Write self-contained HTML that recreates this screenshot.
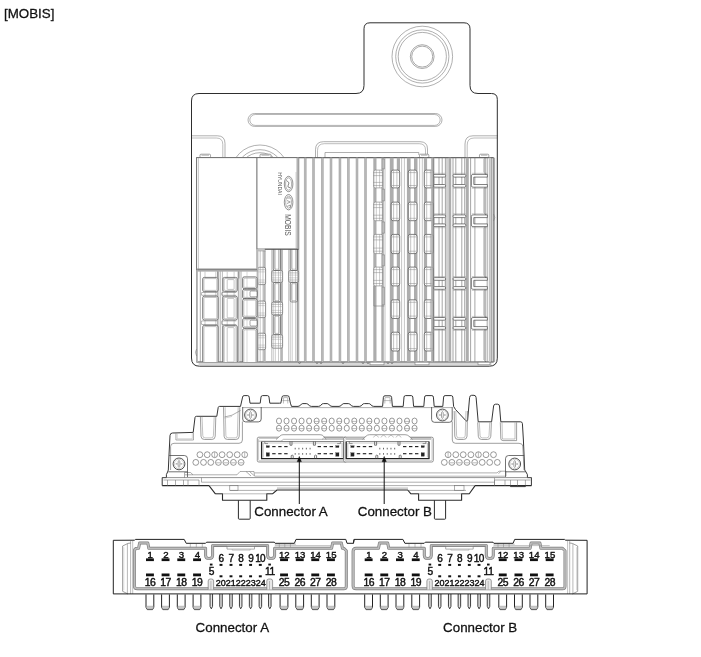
<!DOCTYPE html>
<html><head><meta charset="utf-8"><title>MOBIS</title>
<style>
html,body{margin:0;padding:0;background:#fff;}
body{width:701px;height:657px;overflow:hidden;font-family:"Liberation Sans",sans-serif;}
svg{display:block;position:absolute;left:0;top:0;will-change:transform;}
svg text{font-family:"Liberation Sans",sans-serif;fill:#111;}
</style></head><body>
<svg width="701" height="657" viewBox="0 0 701 657">
<rect x="0" y="0" width="701" height="657" fill="#fff"/>
<text x="4.00" y="18.10" font-size="13.35" text-anchor="start" stroke="#111" stroke-width="0.28">[MOBIS]</text>
<circle cx="422.30" cy="56.50" r="30.30" stroke="#7a7a7a" stroke-width="0.6" fill="none"/>
<circle cx="422.30" cy="56.50" r="26.60" stroke="#7a7a7a" stroke-width="0.6" fill="none"/>
<circle cx="422.30" cy="56.50" r="24.10" stroke="#7a7a7a" stroke-width="0.6" fill="none"/>
<circle cx="422.20" cy="56.60" r="11.90" stroke="#7a7a7a" stroke-width="0.65" fill="none"/>
<circle cx="422.20" cy="56.60" r="10.50" stroke="#7a7a7a" stroke-width="0.65" fill="none"/>
<rect x="248.00" y="113.50" width="194.00" height="12.90" rx="6.45" stroke="#7a7a7a" stroke-width="0.6" fill="none"/>
<rect x="249.80" y="114.50" width="190.40" height="10.90" rx="5.45" stroke="#7a7a7a" stroke-width="0.55" fill="none"/>
<path d="M191.5,135.8 L217.5,135.8 Q225,135.8 225,143.5 L225,157.5" stroke="#7a7a7a" stroke-width="0.6" fill="none" />
<path d="M191.5,138 L216.5,138 Q222.8,138 222.8,144.5 L222.8,157.5" stroke="#7a7a7a" stroke-width="0.5" fill="none" />
<path d="M497.8,135.8 L473,135.8 Q465,135.8 465,144 L465,157.5" stroke="#7a7a7a" stroke-width="0.6" fill="none" />
<path d="M497.3,138 L474,138 Q467.2,138 467.2,145 L467.2,157.5" stroke="#7a7a7a" stroke-width="0.5" fill="none" />
<clipPath id="arcclip"><rect x="225" y="140" width="70" height="17.5"/></clipPath>
<g clip-path="url(#arcclip)">
<circle cx="260.00" cy="174.30" r="29.30" stroke="#7a7a7a" stroke-width="0.6" fill="none"/>
<circle cx="260.00" cy="174.30" r="24.60" stroke="#7a7a7a" stroke-width="0.6" fill="none"/>
<circle cx="260.00" cy="174.30" r="21.60" stroke="#7a7a7a" stroke-width="0.6" fill="none"/>
</g>
<path d="M315.5,157.5 L315.5,149.7 Q315.5,141.7 323.5,141.7 L420,141.7 Q427.5,141.7 427.5,149 L427.5,155" stroke="#7a7a7a" stroke-width="0.6" fill="none" />
<path d="M317.5,157.5 L317.5,150.5 Q317.5,143.7 324.3,143.7 L419.2,143.7 Q425.5,143.7 425.5,150 L425.5,155" stroke="#7a7a7a" stroke-width="0.5" fill="none" />
<path d="M325,157.5 L325,152.5 L418.8,152.5 L418.8,155" stroke="#7a7a7a" stroke-width="0.6" fill="none" />
<rect x="200.00" y="154.20" width="10.50" height="3.50" rx="1" stroke="#7a7a7a" stroke-width="0.7" fill="#fff"/>
<line x1="201.50" y1="155.30" x2="209.00" y2="155.30" stroke="#7a7a7a" stroke-width="0.5"/>
<rect x="260.00" y="154.20" width="11.00" height="3.50" rx="1" stroke="#7a7a7a" stroke-width="0.7" fill="#fff"/>
<line x1="261.50" y1="155.30" x2="269.50" y2="155.30" stroke="#7a7a7a" stroke-width="0.5"/>
<rect x="419.50" y="154.20" width="9.30" height="3.50" rx="1" stroke="#7a7a7a" stroke-width="0.7" fill="#fff"/>
<line x1="421.00" y1="155.30" x2="427.30" y2="155.30" stroke="#7a7a7a" stroke-width="0.5"/>
<rect x="479.50" y="154.20" width="9.30" height="3.50" rx="1" stroke="#7a7a7a" stroke-width="0.7" fill="#fff"/>
<line x1="481.00" y1="155.30" x2="487.30" y2="155.30" stroke="#7a7a7a" stroke-width="0.5"/>
<rect x="196.60" y="157.70" width="296.90" height="204.30" rx="0" stroke="#7a7a7a" stroke-width="0.8" fill="#fff"/>
<line x1="196.60" y1="157.70" x2="493.50" y2="157.70" stroke="#555" stroke-width="0.9"/>
<line x1="196.60" y1="362.00" x2="493.50" y2="362.00" stroke="#666" stroke-width="0.8"/>
<line x1="198.60" y1="364.00" x2="491.50" y2="364.00" stroke="#7a7a7a" stroke-width="0.6"/>
<rect x="297.10" y="157.70" width="1.80" height="204.30" fill="#bdbdbd"/>
<line x1="297.10" y1="157.70" x2="297.10" y2="362.00" stroke="#8a8a8a" stroke-width="0.5"/>
<line x1="298.90" y1="157.70" x2="298.90" y2="362.00" stroke="#8a8a8a" stroke-width="0.5"/>
<rect x="304.40" y="157.70" width="1.80" height="204.30" fill="#bdbdbd"/>
<line x1="304.40" y1="157.70" x2="304.40" y2="362.00" stroke="#8a8a8a" stroke-width="0.5"/>
<line x1="306.20" y1="157.70" x2="306.20" y2="362.00" stroke="#8a8a8a" stroke-width="0.5"/>
<rect x="312.60" y="157.70" width="1.80" height="204.30" fill="#bdbdbd"/>
<line x1="312.60" y1="157.70" x2="312.60" y2="362.00" stroke="#8a8a8a" stroke-width="0.5"/>
<line x1="314.40" y1="157.70" x2="314.40" y2="362.00" stroke="#8a8a8a" stroke-width="0.5"/>
<rect x="321.50" y="157.70" width="1.80" height="204.30" fill="#bdbdbd"/>
<line x1="321.50" y1="157.70" x2="321.50" y2="362.00" stroke="#8a8a8a" stroke-width="0.5"/>
<line x1="323.30" y1="157.70" x2="323.30" y2="362.00" stroke="#8a8a8a" stroke-width="0.5"/>
<rect x="330.10" y="157.70" width="1.80" height="204.30" fill="#bdbdbd"/>
<line x1="330.10" y1="157.70" x2="330.10" y2="362.00" stroke="#8a8a8a" stroke-width="0.5"/>
<line x1="331.90" y1="157.70" x2="331.90" y2="362.00" stroke="#8a8a8a" stroke-width="0.5"/>
<rect x="339.00" y="157.70" width="1.80" height="204.30" fill="#bdbdbd"/>
<line x1="339.00" y1="157.70" x2="339.00" y2="362.00" stroke="#8a8a8a" stroke-width="0.5"/>
<line x1="340.80" y1="157.70" x2="340.80" y2="362.00" stroke="#8a8a8a" stroke-width="0.5"/>
<rect x="347.50" y="157.70" width="1.80" height="204.30" fill="#bdbdbd"/>
<line x1="347.50" y1="157.70" x2="347.50" y2="362.00" stroke="#8a8a8a" stroke-width="0.5"/>
<line x1="349.30" y1="157.70" x2="349.30" y2="362.00" stroke="#8a8a8a" stroke-width="0.5"/>
<rect x="356.10" y="157.70" width="1.80" height="204.30" fill="#bdbdbd"/>
<line x1="356.10" y1="157.70" x2="356.10" y2="362.00" stroke="#8a8a8a" stroke-width="0.5"/>
<line x1="357.90" y1="157.70" x2="357.90" y2="362.00" stroke="#8a8a8a" stroke-width="0.5"/>
<rect x="364.60" y="157.70" width="1.80" height="204.30" fill="#bdbdbd"/>
<line x1="364.60" y1="157.70" x2="364.60" y2="362.00" stroke="#8a8a8a" stroke-width="0.5"/>
<line x1="366.40" y1="157.70" x2="366.40" y2="362.00" stroke="#8a8a8a" stroke-width="0.5"/>
<rect x="373.30" y="157.70" width="3.20" height="204.30" fill="#adadad"/>
<rect x="381.30" y="157.70" width="2.50" height="204.30" fill="#adadad"/>
<rect x="389.80" y="157.70" width="3.80" height="204.30" fill="#adadad"/>
<rect x="396.80" y="157.70" width="3.20" height="204.30" fill="#adadad"/>
<rect x="406.90" y="157.70" width="3.70" height="204.30" fill="#adadad"/>
<rect x="414.00" y="157.70" width="3.50" height="204.30" fill="#adadad"/>
<rect x="423.90" y="157.70" width="3.20" height="204.30" fill="#adadad"/>
<rect x="431.90" y="157.70" width="2.50" height="204.30" fill="#adadad"/>
<line x1="385.00" y1="157.70" x2="385.00" y2="362.00" stroke="#8a8a8a" stroke-width="0.5"/>
<line x1="401.60" y1="157.70" x2="401.60" y2="362.00" stroke="#8a8a8a" stroke-width="0.5"/>
<line x1="404.40" y1="157.70" x2="404.40" y2="362.00" stroke="#8a8a8a" stroke-width="0.5"/>
<line x1="419.60" y1="157.70" x2="419.60" y2="362.00" stroke="#8a8a8a" stroke-width="0.5"/>
<line x1="422.30" y1="157.70" x2="422.30" y2="362.00" stroke="#8a8a8a" stroke-width="0.5"/>
<rect x="373.90" y="170.10" width="8.50" height="17.80" rx="1.5" stroke="#777" stroke-width="0.6" fill="#fff"/>
<line x1="376.30" y1="170.10" x2="376.30" y2="187.90" stroke="#999" stroke-width="0.5"/>
<line x1="379.60" y1="170.10" x2="379.60" y2="187.90" stroke="#999" stroke-width="0.5"/>
<line x1="373.30" y1="172.60" x2="383.00" y2="172.60" stroke="#888" stroke-width="0.5"/>
<line x1="373.30" y1="175.60" x2="383.00" y2="175.60" stroke="#888" stroke-width="0.5"/>
<line x1="373.30" y1="182.40" x2="383.00" y2="182.40" stroke="#888" stroke-width="0.5"/>
<line x1="373.30" y1="185.50" x2="383.00" y2="185.50" stroke="#888" stroke-width="0.5"/>
<rect x="373.90" y="202.10" width="8.50" height="18.60" rx="1.5" stroke="#777" stroke-width="0.6" fill="#fff"/>
<line x1="376.30" y1="202.10" x2="376.30" y2="220.70" stroke="#999" stroke-width="0.5"/>
<line x1="379.60" y1="202.10" x2="379.60" y2="220.70" stroke="#999" stroke-width="0.5"/>
<line x1="373.30" y1="204.60" x2="383.00" y2="204.60" stroke="#888" stroke-width="0.5"/>
<line x1="373.30" y1="207.60" x2="383.00" y2="207.60" stroke="#888" stroke-width="0.5"/>
<line x1="373.30" y1="215.20" x2="383.00" y2="215.20" stroke="#888" stroke-width="0.5"/>
<line x1="373.30" y1="218.30" x2="383.00" y2="218.30" stroke="#888" stroke-width="0.5"/>
<rect x="373.90" y="234.40" width="8.50" height="19.20" rx="1.5" stroke="#777" stroke-width="0.6" fill="#fff"/>
<line x1="376.30" y1="234.40" x2="376.30" y2="253.60" stroke="#999" stroke-width="0.5"/>
<line x1="379.60" y1="234.40" x2="379.60" y2="253.60" stroke="#999" stroke-width="0.5"/>
<line x1="373.30" y1="236.90" x2="383.00" y2="236.90" stroke="#888" stroke-width="0.5"/>
<line x1="373.30" y1="239.90" x2="383.00" y2="239.90" stroke="#888" stroke-width="0.5"/>
<line x1="373.30" y1="248.10" x2="383.00" y2="248.10" stroke="#888" stroke-width="0.5"/>
<line x1="373.30" y1="251.20" x2="383.00" y2="251.20" stroke="#888" stroke-width="0.5"/>
<rect x="373.90" y="267.10" width="8.50" height="18.80" rx="1.5" stroke="#777" stroke-width="0.6" fill="#fff"/>
<line x1="376.30" y1="267.10" x2="376.30" y2="285.90" stroke="#999" stroke-width="0.5"/>
<line x1="379.60" y1="267.10" x2="379.60" y2="285.90" stroke="#999" stroke-width="0.5"/>
<line x1="373.30" y1="269.60" x2="383.00" y2="269.60" stroke="#888" stroke-width="0.5"/>
<line x1="373.30" y1="272.60" x2="383.00" y2="272.60" stroke="#888" stroke-width="0.5"/>
<line x1="373.30" y1="280.40" x2="383.00" y2="280.40" stroke="#888" stroke-width="0.5"/>
<line x1="373.30" y1="283.50" x2="383.00" y2="283.50" stroke="#888" stroke-width="0.5"/>
<rect x="391.20" y="170.10" width="8.50" height="17.80" rx="2.0" stroke="#4c4c4c" stroke-width="0.7" fill="#fff"/>
<line x1="393.60" y1="170.50" x2="393.60" y2="187.50" stroke="#888" stroke-width="0.5"/>
<line x1="396.90" y1="170.50" x2="396.90" y2="187.50" stroke="#888" stroke-width="0.5"/>
<line x1="391.50" y1="172.60" x2="399.40" y2="172.60" stroke="#888" stroke-width="0.5"/>
<line x1="391.50" y1="185.50" x2="399.40" y2="185.50" stroke="#888" stroke-width="0.5"/>
<rect x="391.20" y="202.10" width="8.50" height="18.60" rx="2.0" stroke="#4c4c4c" stroke-width="0.7" fill="#fff"/>
<line x1="393.60" y1="202.50" x2="393.60" y2="220.30" stroke="#888" stroke-width="0.5"/>
<line x1="396.90" y1="202.50" x2="396.90" y2="220.30" stroke="#888" stroke-width="0.5"/>
<line x1="391.50" y1="204.60" x2="399.40" y2="204.60" stroke="#888" stroke-width="0.5"/>
<line x1="391.50" y1="218.30" x2="399.40" y2="218.30" stroke="#888" stroke-width="0.5"/>
<rect x="391.20" y="234.40" width="8.50" height="19.20" rx="2.0" stroke="#4c4c4c" stroke-width="0.7" fill="#fff"/>
<line x1="393.60" y1="234.80" x2="393.60" y2="253.20" stroke="#888" stroke-width="0.5"/>
<line x1="396.90" y1="234.80" x2="396.90" y2="253.20" stroke="#888" stroke-width="0.5"/>
<line x1="391.50" y1="236.90" x2="399.40" y2="236.90" stroke="#888" stroke-width="0.5"/>
<line x1="391.50" y1="251.20" x2="399.40" y2="251.20" stroke="#888" stroke-width="0.5"/>
<rect x="391.20" y="267.10" width="8.50" height="18.80" rx="2.0" stroke="#4c4c4c" stroke-width="0.7" fill="#fff"/>
<line x1="393.60" y1="267.50" x2="393.60" y2="285.50" stroke="#888" stroke-width="0.5"/>
<line x1="396.90" y1="267.50" x2="396.90" y2="285.50" stroke="#888" stroke-width="0.5"/>
<line x1="391.50" y1="269.60" x2="399.40" y2="269.60" stroke="#888" stroke-width="0.5"/>
<line x1="391.50" y1="283.50" x2="399.40" y2="283.50" stroke="#888" stroke-width="0.5"/>
<rect x="391.20" y="299.80" width="8.50" height="18.70" rx="2.0" stroke="#4c4c4c" stroke-width="0.7" fill="#fff"/>
<line x1="393.60" y1="300.20" x2="393.60" y2="318.10" stroke="#888" stroke-width="0.5"/>
<line x1="396.90" y1="300.20" x2="396.90" y2="318.10" stroke="#888" stroke-width="0.5"/>
<line x1="391.50" y1="302.30" x2="399.40" y2="302.30" stroke="#888" stroke-width="0.5"/>
<line x1="391.50" y1="316.10" x2="399.40" y2="316.10" stroke="#888" stroke-width="0.5"/>
<rect x="391.20" y="332.20" width="8.50" height="18.80" rx="2.0" stroke="#4c4c4c" stroke-width="0.7" fill="#fff"/>
<line x1="393.60" y1="332.60" x2="393.60" y2="350.60" stroke="#888" stroke-width="0.5"/>
<line x1="396.90" y1="332.60" x2="396.90" y2="350.60" stroke="#888" stroke-width="0.5"/>
<line x1="391.50" y1="334.70" x2="399.40" y2="334.70" stroke="#888" stroke-width="0.5"/>
<line x1="391.50" y1="348.60" x2="399.40" y2="348.60" stroke="#888" stroke-width="0.5"/>
<rect x="408.30" y="170.10" width="8.70" height="17.80" rx="2.0" stroke="#4c4c4c" stroke-width="0.7" fill="#fff"/>
<line x1="410.70" y1="170.50" x2="410.70" y2="187.50" stroke="#888" stroke-width="0.5"/>
<line x1="414.20" y1="170.50" x2="414.20" y2="187.50" stroke="#888" stroke-width="0.5"/>
<line x1="408.60" y1="172.60" x2="416.70" y2="172.60" stroke="#888" stroke-width="0.5"/>
<line x1="408.60" y1="185.50" x2="416.70" y2="185.50" stroke="#888" stroke-width="0.5"/>
<rect x="408.30" y="202.10" width="8.70" height="18.60" rx="2.0" stroke="#4c4c4c" stroke-width="0.7" fill="#fff"/>
<line x1="410.70" y1="202.50" x2="410.70" y2="220.30" stroke="#888" stroke-width="0.5"/>
<line x1="414.20" y1="202.50" x2="414.20" y2="220.30" stroke="#888" stroke-width="0.5"/>
<line x1="408.60" y1="204.60" x2="416.70" y2="204.60" stroke="#888" stroke-width="0.5"/>
<line x1="408.60" y1="218.30" x2="416.70" y2="218.30" stroke="#888" stroke-width="0.5"/>
<rect x="408.30" y="234.40" width="8.70" height="19.20" rx="2.0" stroke="#4c4c4c" stroke-width="0.7" fill="#fff"/>
<line x1="410.70" y1="234.80" x2="410.70" y2="253.20" stroke="#888" stroke-width="0.5"/>
<line x1="414.20" y1="234.80" x2="414.20" y2="253.20" stroke="#888" stroke-width="0.5"/>
<line x1="408.60" y1="236.90" x2="416.70" y2="236.90" stroke="#888" stroke-width="0.5"/>
<line x1="408.60" y1="251.20" x2="416.70" y2="251.20" stroke="#888" stroke-width="0.5"/>
<rect x="408.30" y="267.10" width="8.70" height="18.80" rx="2.0" stroke="#4c4c4c" stroke-width="0.7" fill="#fff"/>
<line x1="410.70" y1="267.50" x2="410.70" y2="285.50" stroke="#888" stroke-width="0.5"/>
<line x1="414.20" y1="267.50" x2="414.20" y2="285.50" stroke="#888" stroke-width="0.5"/>
<line x1="408.60" y1="269.60" x2="416.70" y2="269.60" stroke="#888" stroke-width="0.5"/>
<line x1="408.60" y1="283.50" x2="416.70" y2="283.50" stroke="#888" stroke-width="0.5"/>
<rect x="408.30" y="299.80" width="8.70" height="18.70" rx="2.0" stroke="#4c4c4c" stroke-width="0.7" fill="#fff"/>
<line x1="410.70" y1="300.20" x2="410.70" y2="318.10" stroke="#888" stroke-width="0.5"/>
<line x1="414.20" y1="300.20" x2="414.20" y2="318.10" stroke="#888" stroke-width="0.5"/>
<line x1="408.60" y1="302.30" x2="416.70" y2="302.30" stroke="#888" stroke-width="0.5"/>
<line x1="408.60" y1="316.10" x2="416.70" y2="316.10" stroke="#888" stroke-width="0.5"/>
<rect x="408.30" y="332.20" width="8.70" height="18.80" rx="2.0" stroke="#4c4c4c" stroke-width="0.7" fill="#fff"/>
<line x1="410.70" y1="332.60" x2="410.70" y2="350.60" stroke="#888" stroke-width="0.5"/>
<line x1="414.20" y1="332.60" x2="414.20" y2="350.60" stroke="#888" stroke-width="0.5"/>
<line x1="408.60" y1="334.70" x2="416.70" y2="334.70" stroke="#888" stroke-width="0.5"/>
<line x1="408.60" y1="348.60" x2="416.70" y2="348.60" stroke="#888" stroke-width="0.5"/>
<rect x="424.30" y="170.10" width="8.90" height="17.80" rx="2.0" stroke="#4c4c4c" stroke-width="0.7" fill="#fff"/>
<line x1="426.70" y1="170.50" x2="426.70" y2="187.50" stroke="#888" stroke-width="0.5"/>
<line x1="430.40" y1="170.50" x2="430.40" y2="187.50" stroke="#888" stroke-width="0.5"/>
<line x1="424.60" y1="172.60" x2="432.90" y2="172.60" stroke="#888" stroke-width="0.5"/>
<line x1="424.60" y1="185.50" x2="432.90" y2="185.50" stroke="#888" stroke-width="0.5"/>
<rect x="424.30" y="202.10" width="8.90" height="18.60" rx="2.0" stroke="#4c4c4c" stroke-width="0.7" fill="#fff"/>
<line x1="426.70" y1="202.50" x2="426.70" y2="220.30" stroke="#888" stroke-width="0.5"/>
<line x1="430.40" y1="202.50" x2="430.40" y2="220.30" stroke="#888" stroke-width="0.5"/>
<line x1="424.60" y1="204.60" x2="432.90" y2="204.60" stroke="#888" stroke-width="0.5"/>
<line x1="424.60" y1="218.30" x2="432.90" y2="218.30" stroke="#888" stroke-width="0.5"/>
<rect x="424.30" y="234.40" width="8.90" height="19.20" rx="2.0" stroke="#4c4c4c" stroke-width="0.7" fill="#fff"/>
<line x1="426.70" y1="234.80" x2="426.70" y2="253.20" stroke="#888" stroke-width="0.5"/>
<line x1="430.40" y1="234.80" x2="430.40" y2="253.20" stroke="#888" stroke-width="0.5"/>
<line x1="424.60" y1="236.90" x2="432.90" y2="236.90" stroke="#888" stroke-width="0.5"/>
<line x1="424.60" y1="251.20" x2="432.90" y2="251.20" stroke="#888" stroke-width="0.5"/>
<rect x="424.30" y="267.10" width="8.90" height="18.80" rx="2.0" stroke="#4c4c4c" stroke-width="0.7" fill="#fff"/>
<line x1="426.70" y1="267.50" x2="426.70" y2="285.50" stroke="#888" stroke-width="0.5"/>
<line x1="430.40" y1="267.50" x2="430.40" y2="285.50" stroke="#888" stroke-width="0.5"/>
<line x1="424.60" y1="269.60" x2="432.90" y2="269.60" stroke="#888" stroke-width="0.5"/>
<line x1="424.60" y1="283.50" x2="432.90" y2="283.50" stroke="#888" stroke-width="0.5"/>
<rect x="424.30" y="299.80" width="8.90" height="18.70" rx="2.0" stroke="#4c4c4c" stroke-width="0.7" fill="#fff"/>
<line x1="426.70" y1="300.20" x2="426.70" y2="318.10" stroke="#888" stroke-width="0.5"/>
<line x1="430.40" y1="300.20" x2="430.40" y2="318.10" stroke="#888" stroke-width="0.5"/>
<line x1="424.60" y1="302.30" x2="432.90" y2="302.30" stroke="#888" stroke-width="0.5"/>
<line x1="424.60" y1="316.10" x2="432.90" y2="316.10" stroke="#888" stroke-width="0.5"/>
<rect x="424.30" y="332.20" width="8.90" height="18.80" rx="2.0" stroke="#4c4c4c" stroke-width="0.7" fill="#fff"/>
<line x1="426.70" y1="332.60" x2="426.70" y2="350.60" stroke="#888" stroke-width="0.5"/>
<line x1="430.40" y1="332.60" x2="430.40" y2="350.60" stroke="#888" stroke-width="0.5"/>
<line x1="424.60" y1="334.70" x2="432.90" y2="334.70" stroke="#888" stroke-width="0.5"/>
<line x1="424.60" y1="348.60" x2="432.90" y2="348.60" stroke="#888" stroke-width="0.5"/>
<path d="M382.2,158.89999999999998 L384.5,158.89999999999998 L384.5,168.9 L382.2,168.9" stroke="#777" stroke-width="0.55" fill="none" />
<path d="M382.2,189.1 L384.5,189.1 L384.5,200.9 L382.2,200.9" stroke="#777" stroke-width="0.55" fill="none" />
<path d="M382.2,221.89999999999998 L384.5,221.89999999999998 L384.5,233.20000000000002 L382.2,233.20000000000002" stroke="#777" stroke-width="0.55" fill="none" />
<path d="M382.2,254.79999999999998 L384.5,254.79999999999998 L384.5,265.90000000000003 L382.2,265.90000000000003" stroke="#777" stroke-width="0.55" fill="none" />
<path d="M382.2,287.09999999999997 L384.5,287.09999999999997 L384.5,304.8 L382.2,304.8" stroke="#777" stroke-width="0.55" fill="none" />
<path d="M373.9,285.9 L373.9,306 L384.4,306" stroke="#7a7a7a" stroke-width="0.6" fill="none" />
<line x1="433.40" y1="157.70" x2="433.40" y2="362.00" stroke="#808080" stroke-width="0.7"/>
<line x1="439.00" y1="157.70" x2="439.00" y2="362.00" stroke="#808080" stroke-width="0.7"/>
<line x1="442.20" y1="157.70" x2="442.20" y2="362.00" stroke="#808080" stroke-width="0.7"/>
<line x1="445.40" y1="157.70" x2="445.40" y2="362.00" stroke="#808080" stroke-width="0.7"/>
<line x1="447.00" y1="157.70" x2="447.00" y2="362.00" stroke="#808080" stroke-width="0.7"/>
<line x1="453.00" y1="157.70" x2="453.00" y2="362.00" stroke="#808080" stroke-width="0.7"/>
<line x1="455.80" y1="157.70" x2="455.80" y2="362.00" stroke="#808080" stroke-width="0.7"/>
<line x1="461.80" y1="157.70" x2="461.80" y2="362.00" stroke="#808080" stroke-width="0.7"/>
<line x1="464.70" y1="157.70" x2="464.70" y2="362.00" stroke="#808080" stroke-width="0.7"/>
<line x1="470.60" y1="157.70" x2="470.60" y2="362.00" stroke="#808080" stroke-width="0.7"/>
<line x1="474.90" y1="157.70" x2="474.90" y2="362.00" stroke="#808080" stroke-width="0.7"/>
<line x1="487.20" y1="157.70" x2="487.20" y2="362.00" stroke="#808080" stroke-width="0.7"/>
<line x1="491.90" y1="157.70" x2="491.90" y2="362.00" stroke="#808080" stroke-width="0.7"/>
<line x1="494.60" y1="157.70" x2="494.60" y2="362.00" stroke="#808080" stroke-width="0.7"/>
<rect x="431.20" y="157.70" width="1.60" height="204.30" fill="#adadad"/>
<rect x="448.40" y="157.70" width="2.80" height="204.30" fill="#adadad"/>
<rect x="465.80" y="157.70" width="3.00" height="204.30" fill="#adadad"/>
<rect x="488.80" y="157.70" width="2.00" height="204.30" fill="#c4c4c4"/>
<rect x="433.60" y="174.40" width="12.00" height="2.70" rx="1.2" stroke="#4a4a4a" stroke-width="0.7" fill="#fff"/>
<rect x="433.60" y="184.50" width="12.00" height="2.70" rx="1.2" stroke="#4a4a4a" stroke-width="0.7" fill="#fff"/>
<line x1="433.60" y1="173.30" x2="445.60" y2="173.30" stroke="#999" stroke-width="0.5"/>
<line x1="433.60" y1="188.30" x2="445.60" y2="188.30" stroke="#999" stroke-width="0.5"/>
<line x1="433.90" y1="177.10" x2="433.90" y2="184.50" stroke="#777" stroke-width="0.6"/>
<line x1="445.30" y1="177.10" x2="445.30" y2="184.50" stroke="#999" stroke-width="0.5"/>
<rect x="453.00" y="174.40" width="12.80" height="2.70" rx="1.2" stroke="#4a4a4a" stroke-width="0.7" fill="#fff"/>
<rect x="453.00" y="184.50" width="12.80" height="2.70" rx="1.2" stroke="#4a4a4a" stroke-width="0.7" fill="#fff"/>
<line x1="453.00" y1="173.30" x2="465.80" y2="173.30" stroke="#999" stroke-width="0.5"/>
<line x1="453.00" y1="188.30" x2="465.80" y2="188.30" stroke="#999" stroke-width="0.5"/>
<line x1="453.30" y1="177.10" x2="453.30" y2="184.50" stroke="#777" stroke-width="0.6"/>
<line x1="465.50" y1="177.10" x2="465.50" y2="184.50" stroke="#999" stroke-width="0.5"/>
<path d="M487.4,174.4 L472.9,174.4 Q471.4,174.4 471.4,175.9 L471.4,185.7 Q471.4,187.2 472.9,187.2 L487.4,187.2 L487.4,184.5 L473.79999999999995,184.5 L473.79999999999995,177.1 L487.4,177.1 Z" stroke="#4a4a4a" stroke-width="0.7" fill="#fff" />
<line x1="471.90" y1="173.30" x2="487.40" y2="173.30" stroke="#999" stroke-width="0.5"/>
<line x1="471.90" y1="188.30" x2="487.40" y2="188.30" stroke="#999" stroke-width="0.5"/>
<rect x="433.60" y="214.90" width="12.00" height="2.70" rx="1.2" stroke="#4a4a4a" stroke-width="0.7" fill="#fff"/>
<rect x="433.60" y="223.90" width="12.00" height="2.70" rx="1.2" stroke="#4a4a4a" stroke-width="0.7" fill="#fff"/>
<line x1="433.60" y1="213.80" x2="445.60" y2="213.80" stroke="#999" stroke-width="0.5"/>
<line x1="433.60" y1="227.70" x2="445.60" y2="227.70" stroke="#999" stroke-width="0.5"/>
<line x1="433.90" y1="217.60" x2="433.90" y2="223.90" stroke="#777" stroke-width="0.6"/>
<line x1="445.30" y1="217.60" x2="445.30" y2="223.90" stroke="#999" stroke-width="0.5"/>
<rect x="453.00" y="214.90" width="12.80" height="2.70" rx="1.2" stroke="#4a4a4a" stroke-width="0.7" fill="#fff"/>
<rect x="453.00" y="223.90" width="12.80" height="2.70" rx="1.2" stroke="#4a4a4a" stroke-width="0.7" fill="#fff"/>
<line x1="453.00" y1="213.80" x2="465.80" y2="213.80" stroke="#999" stroke-width="0.5"/>
<line x1="453.00" y1="227.70" x2="465.80" y2="227.70" stroke="#999" stroke-width="0.5"/>
<line x1="453.30" y1="217.60" x2="453.30" y2="223.90" stroke="#777" stroke-width="0.6"/>
<line x1="465.50" y1="217.60" x2="465.50" y2="223.90" stroke="#999" stroke-width="0.5"/>
<path d="M487.4,214.9 L472.9,214.9 Q471.4,214.9 471.4,216.4 L471.4,225.1 Q471.4,226.6 472.9,226.6 L487.4,226.6 L487.4,223.9 L473.79999999999995,223.9 L473.79999999999995,217.6 L487.4,217.6 Z" stroke="#4a4a4a" stroke-width="0.7" fill="#fff" />
<line x1="471.90" y1="213.80" x2="487.40" y2="213.80" stroke="#999" stroke-width="0.5"/>
<line x1="471.90" y1="227.70" x2="487.40" y2="227.70" stroke="#999" stroke-width="0.5"/>
<rect x="433.60" y="277.60" width="12.00" height="2.70" rx="1.2" stroke="#4a4a4a" stroke-width="0.7" fill="#fff"/>
<rect x="433.60" y="286.60" width="12.00" height="2.70" rx="1.2" stroke="#4a4a4a" stroke-width="0.7" fill="#fff"/>
<line x1="433.60" y1="276.50" x2="445.60" y2="276.50" stroke="#999" stroke-width="0.5"/>
<line x1="433.60" y1="290.40" x2="445.60" y2="290.40" stroke="#999" stroke-width="0.5"/>
<line x1="433.90" y1="280.30" x2="433.90" y2="286.60" stroke="#777" stroke-width="0.6"/>
<line x1="445.30" y1="280.30" x2="445.30" y2="286.60" stroke="#999" stroke-width="0.5"/>
<rect x="453.00" y="277.60" width="12.80" height="2.70" rx="1.2" stroke="#4a4a4a" stroke-width="0.7" fill="#fff"/>
<rect x="453.00" y="286.60" width="12.80" height="2.70" rx="1.2" stroke="#4a4a4a" stroke-width="0.7" fill="#fff"/>
<line x1="453.00" y1="276.50" x2="465.80" y2="276.50" stroke="#999" stroke-width="0.5"/>
<line x1="453.00" y1="290.40" x2="465.80" y2="290.40" stroke="#999" stroke-width="0.5"/>
<line x1="453.30" y1="280.30" x2="453.30" y2="286.60" stroke="#777" stroke-width="0.6"/>
<line x1="465.50" y1="280.30" x2="465.50" y2="286.60" stroke="#999" stroke-width="0.5"/>
<path d="M487.4,277.6 L472.9,277.6 Q471.4,277.6 471.4,279.1 L471.4,287.8 Q471.4,289.3 472.9,289.3 L487.4,289.3 L487.4,286.6 L473.79999999999995,286.6 L473.79999999999995,280.3 L487.4,280.3 Z" stroke="#4a4a4a" stroke-width="0.7" fill="#fff" />
<line x1="471.90" y1="276.50" x2="487.40" y2="276.50" stroke="#999" stroke-width="0.5"/>
<line x1="471.90" y1="290.40" x2="487.40" y2="290.40" stroke="#999" stroke-width="0.5"/>
<rect x="433.60" y="317.50" width="12.00" height="2.70" rx="1.2" stroke="#4a4a4a" stroke-width="0.7" fill="#fff"/>
<rect x="433.60" y="326.60" width="12.00" height="2.70" rx="1.2" stroke="#4a4a4a" stroke-width="0.7" fill="#fff"/>
<line x1="433.60" y1="316.40" x2="445.60" y2="316.40" stroke="#999" stroke-width="0.5"/>
<line x1="433.60" y1="330.40" x2="445.60" y2="330.40" stroke="#999" stroke-width="0.5"/>
<line x1="433.90" y1="320.20" x2="433.90" y2="326.60" stroke="#777" stroke-width="0.6"/>
<line x1="445.30" y1="320.20" x2="445.30" y2="326.60" stroke="#999" stroke-width="0.5"/>
<rect x="453.00" y="317.50" width="12.80" height="2.70" rx="1.2" stroke="#4a4a4a" stroke-width="0.7" fill="#fff"/>
<rect x="453.00" y="326.60" width="12.80" height="2.70" rx="1.2" stroke="#4a4a4a" stroke-width="0.7" fill="#fff"/>
<line x1="453.00" y1="316.40" x2="465.80" y2="316.40" stroke="#999" stroke-width="0.5"/>
<line x1="453.00" y1="330.40" x2="465.80" y2="330.40" stroke="#999" stroke-width="0.5"/>
<line x1="453.30" y1="320.20" x2="453.30" y2="326.60" stroke="#777" stroke-width="0.6"/>
<line x1="465.50" y1="320.20" x2="465.50" y2="326.60" stroke="#999" stroke-width="0.5"/>
<path d="M487.4,317.5 L472.9,317.5 Q471.4,317.5 471.4,319.0 L471.4,327.8 Q471.4,329.3 472.9,329.3 L487.4,329.3 L487.4,326.6 L473.79999999999995,326.6 L473.79999999999995,320.2 L487.4,320.2 Z" stroke="#4a4a4a" stroke-width="0.7" fill="#fff" />
<line x1="471.90" y1="316.40" x2="487.40" y2="316.40" stroke="#999" stroke-width="0.5"/>
<line x1="471.90" y1="330.40" x2="487.40" y2="330.40" stroke="#999" stroke-width="0.5"/>
<line x1="485.00" y1="157.70" x2="485.00" y2="173.20" stroke="#4a4a4a" stroke-width="0.75"/>
<path d="M485.0,173.20000000000002 Q485.0,174.4 486.2,174.4" stroke="#4a4a4a" stroke-width="0.7" fill="none" />
<line x1="483.60" y1="158.70" x2="483.60" y2="172.40" stroke="#999" stroke-width="0.5"/>
<line x1="485.00" y1="187.20" x2="485.00" y2="213.70" stroke="#4a4a4a" stroke-width="0.75"/>
<path d="M485.0,213.70000000000002 Q485.0,214.9 486.2,214.9" stroke="#4a4a4a" stroke-width="0.7" fill="none" />
<line x1="483.60" y1="188.20" x2="483.60" y2="212.90" stroke="#999" stroke-width="0.5"/>
<line x1="485.00" y1="226.60" x2="485.00" y2="276.40" stroke="#4a4a4a" stroke-width="0.75"/>
<path d="M485.0,276.40000000000003 Q485.0,277.6 486.2,277.6" stroke="#4a4a4a" stroke-width="0.7" fill="none" />
<line x1="483.60" y1="227.60" x2="483.60" y2="275.60" stroke="#999" stroke-width="0.5"/>
<line x1="485.00" y1="289.30" x2="485.00" y2="316.30" stroke="#4a4a4a" stroke-width="0.75"/>
<path d="M485.0,316.3 Q485.0,317.5 486.2,317.5" stroke="#4a4a4a" stroke-width="0.7" fill="none" />
<line x1="483.60" y1="290.30" x2="483.60" y2="315.50" stroke="#999" stroke-width="0.5"/>
<line x1="485.00" y1="329.30" x2="485.00" y2="360.80" stroke="#4a4a4a" stroke-width="0.75"/>
<path d="M485.0,360.8 Q485.0,362.0 486.2,362.0" stroke="#4a4a4a" stroke-width="0.7" fill="none" />
<line x1="483.60" y1="330.30" x2="483.60" y2="360.00" stroke="#999" stroke-width="0.5"/>
<line x1="491.70" y1="157.70" x2="491.70" y2="362.00" stroke="#7a7a7a" stroke-width="0.5"/>
<rect x="196.60" y="157.70" width="60.40" height="112.30" rx="0" stroke="#6a6a6a" stroke-width="0.8" fill="#fff"/>
<line x1="198.30" y1="157.70" x2="198.30" y2="270.00" stroke="#999" stroke-width="0.6"/>
<line x1="196.60" y1="268.60" x2="257.00" y2="268.60" stroke="#999" stroke-width="0.6"/>
<rect x="257.00" y="157.70" width="41.00" height="91.30" rx="0" stroke="#6a6a6a" stroke-width="0.8" fill="#fff"/>
<rect x="296.90" y="157.70" width="1.80" height="91.30" fill="#bdbdbd"/>
<line x1="296.90" y1="157.70" x2="296.90" y2="249.00" stroke="#8a8a8a" stroke-width="0.5"/>
<line x1="298.70" y1="157.70" x2="298.70" y2="249.00" stroke="#8a8a8a" stroke-width="0.5"/>
<line x1="296.00" y1="172.00" x2="296.00" y2="249.00" stroke="#aaa" stroke-width="0.5"/>
<g fill="none" stroke="#666" stroke-width="0.7">
<ellipse cx="288.6" cy="184" rx="4.3" ry="7.7"/><ellipse cx="288.6" cy="184" rx="3.0" ry="6.2" stroke-width="0.5"/>
<path d="M286.8,180.5 Q290.5,183 288.2,185.2 Q286.5,187 290.4,188" stroke-width="0.8"/>
<ellipse cx="288.6" cy="202.2" rx="4.3" ry="7.7"/><ellipse cx="288.6" cy="202.2" rx="2.9" ry="6.0" stroke-width="0.5"/>
<path d="M287,198 L290.3,198 M287,200.5 L290.3,202 L287,203.5 M287,206.5 L290.3,205 L290.3,208" stroke-width="0.6"/>
</g>
<text transform="translate(278.0,172.3) rotate(90)" font-size="4.9" style="fill:#555" textLength="22.5" lengthAdjust="spacingAndGlyphs">HYUNDAI</text>
<text transform="translate(285.4,214.2) rotate(90)" font-size="8.8" style="fill:#5a5a5a" textLength="21.5" lengthAdjust="spacingAndGlyphs">MOBIS</text>
<rect x="263.40" y="250.80" width="2.30" height="111.20" fill="#b6b6b6"/>
<rect x="257.70" y="267.30" width="7.90" height="17.30" rx="1.8" stroke="#5c5c5c" stroke-width="0.65" fill="#fff"/>
<line x1="257.70" y1="269.70" x2="265.60" y2="269.70" stroke="#8a8a8a" stroke-width="0.5"/>
<line x1="257.70" y1="282.20" x2="265.60" y2="282.20" stroke="#8a8a8a" stroke-width="0.5"/>
<line x1="257.70" y1="271.90" x2="265.60" y2="271.90" stroke="#aaa" stroke-width="0.45"/>
<line x1="257.70" y1="280.00" x2="265.60" y2="280.00" stroke="#aaa" stroke-width="0.45"/>
<rect x="257.70" y="301.00" width="7.90" height="16.60" rx="1.8" stroke="#5c5c5c" stroke-width="0.65" fill="#fff"/>
<line x1="257.70" y1="303.40" x2="265.60" y2="303.40" stroke="#8a8a8a" stroke-width="0.5"/>
<line x1="257.70" y1="315.20" x2="265.60" y2="315.20" stroke="#8a8a8a" stroke-width="0.5"/>
<line x1="257.70" y1="305.60" x2="265.60" y2="305.60" stroke="#aaa" stroke-width="0.45"/>
<line x1="257.70" y1="313.00" x2="265.60" y2="313.00" stroke="#aaa" stroke-width="0.45"/>
<rect x="257.70" y="333.20" width="7.90" height="16.50" rx="1.8" stroke="#5c5c5c" stroke-width="0.65" fill="#fff"/>
<line x1="257.70" y1="335.60" x2="265.60" y2="335.60" stroke="#8a8a8a" stroke-width="0.5"/>
<line x1="257.70" y1="347.30" x2="265.60" y2="347.30" stroke="#8a8a8a" stroke-width="0.5"/>
<line x1="257.70" y1="337.80" x2="265.60" y2="337.80" stroke="#aaa" stroke-width="0.45"/>
<line x1="257.70" y1="345.10" x2="265.60" y2="345.10" stroke="#aaa" stroke-width="0.45"/>
<line x1="260.20" y1="250.80" x2="260.20" y2="362.00" stroke="#8a8a8a" stroke-width="0.5"/>
<line x1="263.00" y1="250.80" x2="263.00" y2="362.00" stroke="#8a8a8a" stroke-width="0.5"/>
<line x1="257.20" y1="250.80" x2="265.70" y2="250.80" stroke="#666" stroke-width="0.6"/>
<rect x="281.00" y="249.30" width="1.90" height="112.70" fill="#b6b6b6"/>
<rect x="271.60" y="270.50" width="11.00" height="11.90" rx="1.8" stroke="#5c5c5c" stroke-width="0.65" fill="#fff"/>
<line x1="271.60" y1="272.90" x2="282.60" y2="272.90" stroke="#8a8a8a" stroke-width="0.5"/>
<line x1="271.60" y1="280.00" x2="282.60" y2="280.00" stroke="#8a8a8a" stroke-width="0.5"/>
<line x1="271.60" y1="275.10" x2="282.60" y2="275.10" stroke="#aaa" stroke-width="0.45"/>
<line x1="271.60" y1="277.80" x2="282.60" y2="277.80" stroke="#aaa" stroke-width="0.45"/>
<rect x="271.60" y="302.00" width="11.00" height="13.00" rx="1.8" stroke="#5c5c5c" stroke-width="0.65" fill="#fff"/>
<line x1="271.60" y1="304.40" x2="282.60" y2="304.40" stroke="#8a8a8a" stroke-width="0.5"/>
<line x1="271.60" y1="312.60" x2="282.60" y2="312.60" stroke="#8a8a8a" stroke-width="0.5"/>
<line x1="271.60" y1="306.60" x2="282.60" y2="306.60" stroke="#aaa" stroke-width="0.45"/>
<line x1="271.60" y1="310.40" x2="282.60" y2="310.40" stroke="#aaa" stroke-width="0.45"/>
<rect x="271.60" y="334.70" width="11.00" height="13.50" rx="1.8" stroke="#5c5c5c" stroke-width="0.65" fill="#fff"/>
<line x1="271.60" y1="337.10" x2="282.60" y2="337.10" stroke="#8a8a8a" stroke-width="0.5"/>
<line x1="271.60" y1="345.80" x2="282.60" y2="345.80" stroke="#8a8a8a" stroke-width="0.5"/>
<line x1="271.60" y1="339.30" x2="282.60" y2="339.30" stroke="#aaa" stroke-width="0.45"/>
<line x1="271.60" y1="343.60" x2="282.60" y2="343.60" stroke="#aaa" stroke-width="0.45"/>
<line x1="271.60" y1="249.30" x2="271.60" y2="362.00" stroke="#999" stroke-width="0.5"/>
<line x1="275.30" y1="249.30" x2="275.30" y2="362.00" stroke="#999" stroke-width="0.5"/>
<line x1="278.50" y1="249.30" x2="278.50" y2="362.00" stroke="#999" stroke-width="0.5"/>
<line x1="273.20" y1="249.30" x2="273.20" y2="362.00" stroke="#8a8a8a" stroke-width="0.5"/>
<line x1="280.50" y1="249.30" x2="280.50" y2="362.00" stroke="#8a8a8a" stroke-width="0.5"/>
<path d="M273.2,249.3 L273.2,268.9 Q273.2,270.5 274.8,270.5 L278.9,270.5 Q280.5,270.5 280.5,268.9 L280.5,249.3" stroke="#606060" stroke-width="0.65" fill="none" />
<path d="M274.5,249.3 L274.5,268.29999999999995 Q274.5,269.2 275.8,269.2 L277.9,269.2 Q279.2,269.2 279.2,268.29999999999995 L279.2,249.3" stroke="#8c8c8c" stroke-width="0.5" fill="none" />
<rect x="273.20" y="282.40" width="7.30" height="19.60" rx="1.6" stroke="#606060" stroke-width="0.65" fill="none"/>
<rect x="274.50" y="283.70" width="4.70" height="17.00" rx="1" stroke="#8c8c8c" stroke-width="0.5" fill="none"/>
<rect x="273.20" y="315.00" width="7.30" height="19.70" rx="1.6" stroke="#606060" stroke-width="0.65" fill="none"/>
<rect x="274.50" y="316.30" width="4.70" height="17.10" rx="1" stroke="#8c8c8c" stroke-width="0.5" fill="none"/>
<rect x="288.50" y="270.50" width="10.10" height="11.90" rx="1.8" stroke="#5c5c5c" stroke-width="0.65" fill="#fff"/>
<line x1="288.50" y1="272.90" x2="298.60" y2="272.90" stroke="#8a8a8a" stroke-width="0.5"/>
<line x1="288.50" y1="280.00" x2="298.60" y2="280.00" stroke="#8a8a8a" stroke-width="0.5"/>
<line x1="288.50" y1="275.10" x2="298.60" y2="275.10" stroke="#aaa" stroke-width="0.45"/>
<line x1="288.50" y1="277.80" x2="298.60" y2="277.80" stroke="#aaa" stroke-width="0.45"/>
<line x1="288.50" y1="249.30" x2="288.50" y2="362.00" stroke="#999" stroke-width="0.5"/>
<line x1="292.20" y1="249.30" x2="292.20" y2="362.00" stroke="#999" stroke-width="0.5"/>
<line x1="295.60" y1="249.30" x2="295.60" y2="362.00" stroke="#999" stroke-width="0.5"/>
<line x1="290.20" y1="249.30" x2="290.20" y2="362.00" stroke="#8a8a8a" stroke-width="0.5"/>
<line x1="297.50" y1="249.30" x2="297.50" y2="362.00" stroke="#8a8a8a" stroke-width="0.5"/>
<path d="M290.2,249.3 L290.2,268.9 Q290.2,270.5 291.8,270.5 L295.9,270.5 Q297.5,270.5 297.5,268.9 L297.5,249.3" stroke="#606060" stroke-width="0.65" fill="none" />
<path d="M291.5,249.3 L291.5,268.29999999999995 Q291.5,269.2 292.8,269.2 L294.9,269.2 Q296.2,269.2 296.2,268.29999999999995 L296.2,249.3" stroke="#8c8c8c" stroke-width="0.5" fill="none" />
<rect x="290.20" y="282.40" width="7.30" height="19.60" rx="1.6" stroke="#606060" stroke-width="0.65" fill="none"/>
<rect x="291.50" y="283.70" width="4.70" height="17.00" rx="1" stroke="#8c8c8c" stroke-width="0.5" fill="none"/>
<line x1="264.80" y1="249.30" x2="298.60" y2="249.30" stroke="#444" stroke-width="0.8"/>
<rect x="196.30" y="270.00" width="1.60" height="92.00" fill="#b4b4b4"/>
<line x1="200.30" y1="271.00" x2="200.30" y2="362.00" stroke="#777" stroke-width="0.6"/>
<rect x="217.00" y="271.00" width="1.60" height="91.00" fill="#b4b4b4"/>
<line x1="220.20" y1="271.00" x2="220.20" y2="362.00" stroke="#777" stroke-width="0.6"/>
<line x1="222.40" y1="271.00" x2="222.40" y2="362.00" stroke="#888" stroke-width="0.55"/>
<rect x="237.80" y="271.00" width="1.60" height="91.00" fill="#b4b4b4"/>
<line x1="241.00" y1="271.00" x2="241.00" y2="362.00" stroke="#777" stroke-width="0.6"/>
<rect x="256.60" y="249.00" width="1.80" height="113.00" fill="#b8b8b8"/>
<line x1="205.00" y1="271.60" x2="205.00" y2="362.00" stroke="#9a9a9a" stroke-width="0.5"/>
<line x1="215.80" y1="271.60" x2="215.80" y2="362.00" stroke="#9a9a9a" stroke-width="0.5"/>
<line x1="227.20" y1="271.60" x2="227.20" y2="362.00" stroke="#9a9a9a" stroke-width="0.5"/>
<line x1="234.10" y1="271.60" x2="234.10" y2="362.00" stroke="#9a9a9a" stroke-width="0.5"/>
<rect x="202.70" y="277.40" width="15.40" height="14.20" rx="1.6" stroke="#505050" stroke-width="0.75" fill="#fff"/>
<rect x="203.90" y="278.60" width="13.00" height="11.80" rx="0.96" stroke="#8c8c8c" stroke-width="0.55" fill="none"/>
<rect x="202.70" y="296.20" width="15.40" height="23.80" rx="1.6" stroke="#505050" stroke-width="0.75" fill="#fff"/>
<rect x="203.90" y="297.40" width="13.00" height="21.40" rx="0.96" stroke="#8c8c8c" stroke-width="0.55" fill="none"/>
<path d="M202.7,362.0 L202.7,327.0 Q202.7,325.4 204.29999999999998,325.4 L216.5,325.4 Q218.1,325.4 218.1,327.0 L218.1,362.0" stroke="#505050" stroke-width="0.75" fill="#fff" />
<path d="M203.89999999999998,362.0 L203.89999999999998,327.6 Q203.89999999999998,326.59999999999997 205.29999999999998,326.59999999999997 L215.5,326.59999999999997 Q216.9,326.59999999999997 216.9,327.6 L216.9,362.0" stroke="#8c8c8c" stroke-width="0.55" fill="none" />
<line x1="201.70" y1="292.50" x2="217.10" y2="292.50" stroke="#777" stroke-width="0.55"/>
<line x1="201.70" y1="295.30" x2="217.10" y2="295.30" stroke="#777" stroke-width="0.55"/>
<path d="M201.7,292.5 Q200.89999999999998,293.9 201.7,295.3" stroke="#777" stroke-width="0.55" fill="none" />
<line x1="201.70" y1="320.90" x2="217.10" y2="320.90" stroke="#777" stroke-width="0.55"/>
<line x1="201.70" y1="324.50" x2="217.10" y2="324.50" stroke="#777" stroke-width="0.55"/>
<path d="M201.7,320.9 Q200.89999999999998,322.7 201.7,324.5" stroke="#777" stroke-width="0.55" fill="none" />
<rect x="222.90" y="277.40" width="14.40" height="14.20" rx="1.6" stroke="#505050" stroke-width="0.75" fill="#fff"/>
<rect x="224.10" y="278.60" width="12.00" height="11.80" rx="0.96" stroke="#8c8c8c" stroke-width="0.55" fill="none"/>
<rect x="222.90" y="296.20" width="14.40" height="23.80" rx="1.6" stroke="#505050" stroke-width="0.75" fill="#fff"/>
<rect x="224.10" y="297.40" width="12.00" height="21.40" rx="0.96" stroke="#8c8c8c" stroke-width="0.55" fill="none"/>
<path d="M222.9,362.0 L222.9,327.0 Q222.9,325.4 224.5,325.4 L235.70000000000002,325.4 Q237.3,325.4 237.3,327.0 L237.3,362.0" stroke="#505050" stroke-width="0.75" fill="#fff" />
<path d="M224.1,362.0 L224.1,327.6 Q224.1,326.59999999999997 225.5,326.59999999999997 L234.70000000000002,326.59999999999997 Q236.10000000000002,326.59999999999997 236.10000000000002,327.6 L236.10000000000002,362.0" stroke="#8c8c8c" stroke-width="0.55" fill="none" />
<line x1="221.90" y1="292.50" x2="236.30" y2="292.50" stroke="#777" stroke-width="0.55"/>
<line x1="221.90" y1="295.30" x2="236.30" y2="295.30" stroke="#777" stroke-width="0.55"/>
<path d="M221.9,292.5 Q221.1,293.9 221.9,295.3" stroke="#777" stroke-width="0.55" fill="none" />
<line x1="221.90" y1="320.90" x2="236.30" y2="320.90" stroke="#777" stroke-width="0.55"/>
<line x1="221.90" y1="324.50" x2="236.30" y2="324.50" stroke="#777" stroke-width="0.55"/>
<path d="M221.9,320.9 Q221.1,322.7 221.9,324.5" stroke="#777" stroke-width="0.55" fill="none" />
<rect x="227.20" y="279.60" width="6.90" height="9.80" rx="0.8" stroke="#8a8a8a" stroke-width="0.5" fill="none"/>
<rect x="227.20" y="298.40" width="6.90" height="19.40" rx="0.8" stroke="#8a8a8a" stroke-width="0.5" fill="none"/>
<rect x="227.20" y="327.60" width="6.90" height="34.40" rx="0.8" stroke="#8a8a8a" stroke-width="0.5" fill="none"/>
<rect x="242.60" y="276.90" width="14.40" height="11.70" rx="1.6" stroke="#505050" stroke-width="0.75" fill="#fff"/>
<rect x="243.80" y="278.10" width="12.00" height="9.30" rx="0.96" stroke="#8c8c8c" stroke-width="0.55" fill="none"/>
<rect x="242.60" y="289.30" width="14.40" height="9.30" rx="1.6" stroke="#505050" stroke-width="0.75" fill="#fff"/>
<rect x="243.80" y="290.50" width="12.00" height="6.90" rx="0.96" stroke="#8c8c8c" stroke-width="0.55" fill="none"/>
<rect x="242.60" y="298.90" width="14.40" height="18.50" rx="1.6" stroke="#505050" stroke-width="0.75" fill="#fff"/>
<rect x="243.80" y="300.10" width="12.00" height="16.10" rx="0.96" stroke="#8c8c8c" stroke-width="0.55" fill="none"/>
<rect x="242.60" y="318.50" width="14.40" height="9.50" rx="1.6" stroke="#505050" stroke-width="0.75" fill="#fff"/>
<rect x="243.80" y="319.70" width="12.00" height="7.10" rx="0.96" stroke="#8c8c8c" stroke-width="0.55" fill="none"/>
<path d="M242.6,362.0 L242.6,330.20000000000005 Q242.6,328.6 244.2,328.6 L255.4,328.6 Q257.0,328.6 257.0,330.20000000000005 L257.0,362.0" stroke="#505050" stroke-width="0.75" fill="#fff" />
<path d="M243.79999999999998,362.0 L243.79999999999998,330.80000000000007 Q243.79999999999998,329.8 245.2,329.8 L254.4,329.8 Q255.8,329.8 255.8,330.80000000000007 L255.8,362.0" stroke="#8c8c8c" stroke-width="0.55" fill="none" />
<rect x="250.00" y="291.00" width="7.00" height="5.80" rx="1.2" stroke="#6a6a6a" stroke-width="0.6" fill="#fff"/>
<rect x="250.00" y="320.20" width="7.00" height="5.80" rx="1.2" stroke="#6a6a6a" stroke-width="0.6" fill="#fff"/>
<line x1="247.00" y1="271.60" x2="247.00" y2="362.00" stroke="#aaa" stroke-width="0.45"/>
<rect x="197.30" y="269.50" width="60.70" height="2.10" fill="#aaaaaa"/>
<line x1="197.30" y1="269.50" x2="257.00" y2="269.50" stroke="#666" stroke-width="0.6"/>
<rect x="217.00" y="271.60" width="1.60" height="6.90" fill="#9a9a9a"/>
<rect x="237.80" y="271.60" width="1.60" height="6.90" fill="#9a9a9a"/>
<path d="M298.3,362 L299.5,364 L300.7,362" stroke="#666" stroke-width="0.6" fill="none" />
<path d="M315.8,362 L317,364 L318.2,362" stroke="#666" stroke-width="0.6" fill="none" />
<path d="M319.8,362 L321,364 L322.2,362" stroke="#666" stroke-width="0.6" fill="none" />
<path d="M341.8,362 L343,364 L344.2,362" stroke="#666" stroke-width="0.6" fill="none" />
<path d="M361.8,362 L363,364 L364.2,362" stroke="#666" stroke-width="0.6" fill="none" />
<path d="M366.8,362 L368,364 L369.2,362" stroke="#666" stroke-width="0.6" fill="none" />
<path d="M386.8,362 L388,364 L389.2,362" stroke="#666" stroke-width="0.6" fill="none" />
<path d="M390.8,362 L392,364 L393.2,362" stroke="#666" stroke-width="0.6" fill="none" />
<rect x="370.00" y="362.20" width="14.00" height="2.60" rx="0" stroke="#7a7a7a" stroke-width="0.6" fill="#fff"/>
<rect x="415.00" y="362.20" width="14.00" height="2.60" rx="0" stroke="#7a7a7a" stroke-width="0.6" fill="#fff"/>
<rect x="478.00" y="362.20" width="12.00" height="2.60" rx="0" stroke="#7a7a7a" stroke-width="0.6" fill="#fff"/>
<path d="M196.6,349 Q194.3,352 196.6,356" stroke="#7a7a7a" stroke-width="0.6" fill="none" />
<path d="M493.5,214 Q496,217.5 493.5,221" stroke="#7a7a7a" stroke-width="0.6" fill="none" />
<path d="M191.5,358 L191.5,101 Q191.5,93.5 199,93.5 L356,93.5 Q364,93.5 364,85.5 L364,28.8 Q364,22.8 370,22.8 L464,22.8 Q470,22.8 470,28.8 L470,85.5 Q470,93.5 478,93.5 L491.5,93.5 Q497.3,93.5 497.3,99.3 L497.3,358.2 Q497.3,366.2 489.3,366.2 L199.5,366.2 Q191.5,366.2 191.5,358 Z" stroke="#2e2e2e" stroke-width="1.0" fill="none" />
<path d="M162.2,485.6 L162.2,477.6 L166.4,477.6 L166.4,474.6 L167.6,472 L168.3,470 L169.0,455 L170.0,435.5 Q170.2,433 172.5,433 L193.2,432.4 L195.0,417.5 Q195.2,416.3 196.5,416.3 L216.8,416.3 L218.2,407.5 Q218.4,406.4 219.6,406.4 L240.5,406.4 L242.6,397.1 Q242.8,395.6 244.1,395.6 L247.7,395.6 Q249.0,395.6 249.2,397.1 L250.0,403.2 L259.3,403.2 L260.2,403.2 L261.0,397.1 Q261.2,395.6 262.5,395.6 L267.5,395.6 Q268.8,395.6 269.0,397.1 L269.8,403.2 L279.6,403.2 L280.8,403.2 L282.0,397.3 Q282.2,395.8 283.5,395.8 L287.7,395.8 Q289.0,395.8 289.2,397.3 L290.4,403.2 L291.5,406.4 L298.0,406.4 Q300.0,406.4 301.5,404.0 Q302.2,403.6 303.0,403.6 L306.3,403.6 Q307.1,403.6 307.8,404.0 Q309.3,406.4 311.3,406.4 L318.5,406.4 Q320.5,406.4 322.0,404.0 Q322.7,403.6 323.5,403.6 L327.0,403.6 Q327.8,403.6 328.5,404.0 Q330.0,406.4 332.0,406.4 L339.0,406.4 Q341.0,406.4 342.5,404.0 Q343.2,403.6 344.0,403.6 L348.3,403.6 Q349.1,403.6 349.8,404.0 Q351.3,406.4 353.3,406.4 L359.4,406.4 Q361.4,406.4 362.9,404.0 Q363.6,403.6 364.4,403.6 L368.7,403.6 Q369.5,403.6 370.2,404.0 Q371.7,406.4 373.7,406.4 L381.0,406.4 L382.6,406.4 L383.4,397.3 Q383.6,395.8 384.9,395.8 L390.1,395.8 Q391.4,395.8 391.6,397.3 L392.4,406.4 L403.2,406.4 L404.0,397.1 Q404.2,395.6 405.5,395.6 L411.3,395.6 Q412.6,395.6 412.8,397.1 L413.6,406.4 L423.8,406.4 L424.6,397.1 Q424.8,395.6 426.1,395.6 L431.9,395.6 Q433.2,395.6 433.4,397.1 L434.2,406.4 L442.8,406.4 L443.6,397.1 Q443.8,395.6 445.1,395.6 L451.3,395.6 Q452.6,395.6 452.8,397.1 L453.6,406.4 L455.5,409.5 L466.0,420.8 Q467,421.6 467.6,420.5 L469.6,397.5 Q469.9,395.3 471.6,395.3 L474,395.3 Q475.8,395.3 476.1,397.5 L478.2,421.8 L491.6,421.8 L493.6,406 Q493.9,404.2 495.5,404.2 L497.6,404.2 Q499.2,404.2 499.5,406 L500.8,421.8 L520.5,421.8 Q522.2,421.8 522.4,423.5 L523.4,440 L524.7,470 L526,472 L527.4,474.6 L527.4,477.6 L531.4,477.6 L531.4,485.6" stroke="#2a2a2a" stroke-width="0.95" fill="none" stroke-linejoin="round"/>
<path d="M283.4,403.5 L283.6,397.6 L287.59999999999997,397.6 L287.8,403.5 M282.4,400.6 L288.8,400.6" stroke="#888" stroke-width="0.55" fill="none" />
<path d="M384.79999999999995,403.5 L385.0,397.6 L390.0,397.6 L390.20000000000005,403.5 M383.79999999999995,400.6 L391.20000000000005,400.6" stroke="#888" stroke-width="0.55" fill="none" />
<path d="M242.5,407.6 L291,407.6 L380,407.6 L452,407.6" stroke="#777" stroke-width="0.6" fill="none" />
<path d="M162.2,485.6 L209,485.6 L215.4,493.8 L222.5,493.8 L222.5,500.3 L266.8,500.3 L266.8,493.8 L272.5,493.8 L277,490 L407.7,490 L410.9,493.8 L418.6,493.8 L418.6,500.3 L461.6,500.3 L461.6,493.8 L469.3,493.8 L475.1,485.6 L531.5,485.6" stroke="#2a2a2a" stroke-width="1.1" fill="none" stroke-linejoin="round"/>
<path d="M238.4,500.3 L238.4,518.4 Q238.4,519.2 239.2,519.2 L249.4,519.2 Q250.2,519.2 250.2,518.4 L250.2,500.3" stroke="#2a2a2a" stroke-width="1.0" fill="none" />
<path d="M434.4,500.3 L434.4,518.4 Q434.4,519.2 435.2,519.2 L444.8,519.2 Q445.6,519.2 445.6,518.4 L445.6,500.3" stroke="#2a2a2a" stroke-width="1.0" fill="none" />
<path d="M185,474.8 L237,474.8 L240,471.5 L254,471.5 L254.5,476" stroke="#777" stroke-width="0.6" fill="none" />
<path d="M246,471.5 L251,476 M249.5,471.5 L254,475.5" stroke="#777" stroke-width="0.6" fill="none" />
<line x1="254.50" y1="472.90" x2="497.00" y2="472.90" stroke="#777" stroke-width="0.6"/>
<line x1="254.50" y1="476.20" x2="505.00" y2="476.20" stroke="#777" stroke-width="0.55"/>
<line x1="162.20" y1="477.60" x2="531.50" y2="477.60" stroke="#666" stroke-width="0.7"/>
<line x1="201.50" y1="482.20" x2="495.00" y2="482.20" stroke="#777" stroke-width="0.6"/>
<line x1="209.00" y1="485.60" x2="475.00" y2="485.60" stroke="#777" stroke-width="0.6"/>
<line x1="277.00" y1="488.10" x2="408.00" y2="488.10" stroke="#777" stroke-width="0.6"/>
<line x1="229.80" y1="490.40" x2="276.00" y2="490.40" stroke="#777" stroke-width="0.6"/>
<line x1="409.00" y1="490.40" x2="466.00" y2="490.40" stroke="#777" stroke-width="0.6"/>
<line x1="216.00" y1="493.80" x2="272.00" y2="493.80" stroke="#777" stroke-width="0.5"/>
<line x1="411.00" y1="493.80" x2="469.00" y2="493.80" stroke="#777" stroke-width="0.5"/>
<line x1="167.50" y1="480.00" x2="167.50" y2="485.60" stroke="#777" stroke-width="0.6"/>
<line x1="175.50" y1="480.00" x2="175.50" y2="485.60" stroke="#777" stroke-width="0.6"/>
<line x1="183.50" y1="480.00" x2="183.50" y2="485.60" stroke="#777" stroke-width="0.6"/>
<line x1="188.00" y1="480.00" x2="188.00" y2="485.60" stroke="#777" stroke-width="0.6"/>
<line x1="199.00" y1="480.00" x2="199.00" y2="485.60" stroke="#777" stroke-width="0.6"/>
<line x1="163.50" y1="480.00" x2="199.00" y2="480.00" stroke="#777" stroke-width="0.6"/>
<line x1="201.50" y1="477.60" x2="201.50" y2="482.20" stroke="#777" stroke-width="0.6"/>
<line x1="494.50" y1="480.00" x2="494.50" y2="485.60" stroke="#777" stroke-width="0.6"/>
<line x1="505.00" y1="480.00" x2="505.00" y2="485.60" stroke="#777" stroke-width="0.6"/>
<line x1="510.50" y1="480.00" x2="510.50" y2="485.60" stroke="#777" stroke-width="0.6"/>
<line x1="517.50" y1="480.00" x2="517.50" y2="485.60" stroke="#777" stroke-width="0.6"/>
<line x1="525.40" y1="480.00" x2="525.40" y2="485.60" stroke="#777" stroke-width="0.6"/>
<line x1="494.50" y1="480.00" x2="530.50" y2="480.00" stroke="#777" stroke-width="0.6"/>
<line x1="494.50" y1="477.80" x2="494.50" y2="485.00" stroke="#777" stroke-width="0.6"/>
<path d="M510.5,485.6 L510.5,486.6 L525.4,486.6 L525.4,485.6" stroke="#2a2a2a" stroke-width="0.9" fill="none" />
<path d="M184.5,477.8 L184.5,472.5 L190.5,472.5 L193,474.8" stroke="#777" stroke-width="0.6" fill="none" />
<path d="M497,472.9 L499,471.2 L506,471.2 L506,476.2 M501,471.2 L498.5,473.8" stroke="#777" stroke-width="0.6" fill="none" />
<rect x="229.80" y="485.60" width="8.20" height="4.80" rx="0" stroke="#777" stroke-width="0.6" fill="none"/>
<rect x="454.50" y="485.60" width="9.50" height="4.80" rx="0" stroke="#777" stroke-width="0.6" fill="none"/>
<path d="M170.6,470 L170.6,446.5 Q170.6,443.3 174,443.3 L239,443.3 Q242.4,443.3 242.4,440 L242.4,421.5" stroke="#777" stroke-width="0.7" fill="none" />
<path d="M452.3,421.5 L452.3,440 Q452.3,443.3 455.5,443.3 L519,443.3 Q522.5,443.3 522.8,446 L524,470" stroke="#777" stroke-width="0.7" fill="none" />
<path d="M175.9,433.3 L175.9,440 L193.5,440 L193.5,432.8" stroke="#777" stroke-width="0.6" fill="none" />
<path d="M177.2,433.3 L177.2,438.8 L192.3,438.8 L192.3,432.8" stroke="#aaa" stroke-width="0.5" fill="none" />
<path d="M200.4,416.8 L201.0,436.3 Q201.20000000000002,439.5 204.4,439.5 L211.8,439.5 Q215.0,439.5 215.20000000000002,436.3 L215.8,416.8" stroke="#777" stroke-width="0.7" fill="none" />
<path d="M202.0,416.8 L202.8,435.7 Q203.0,437.9 205.0,437.9 L211.20000000000002,437.9 Q213.20000000000002,437.9 213.4,435.7 L214.20000000000002,416.8" stroke="#999" stroke-width="0.6" fill="none" />
<path d="M223.5,407.2 L224.1,436.3 Q224.3,439.5 227.5,439.5 L235.8,439.5 Q239.0,439.5 239.20000000000002,436.3 L239.8,407.2" stroke="#777" stroke-width="0.7" fill="none" />
<path d="M225.1,407.2 L225.9,435.7 Q226.1,437.9 228.1,437.9 L235.20000000000002,437.9 Q237.20000000000002,437.9 237.4,435.7 L238.20000000000002,407.2" stroke="#999" stroke-width="0.6" fill="none" />
<path d="M224.5,417 L232,415.2 L240.5,410.5" stroke="#777" stroke-width="0.6" fill="none" />
<path d="M224.5,418.2 L232,416.4" stroke="#aaa" stroke-width="0.5" fill="none" />
<path d="M454.2,411 L454.8,436.3 Q455.0,439.5 458.2,439.5 L463.6,439.5 Q466.8,439.5 467.0,436.3 L467.6,411" stroke="#777" stroke-width="0.7" fill="none" />
<path d="M455.8,411 L456.59999999999997,435.7 Q456.8,437.9 458.79999999999995,437.9 L463.00000000000006,437.9 Q465.0,437.9 465.20000000000005,435.7 L466.0,411" stroke="#999" stroke-width="0.6" fill="none" />
<path d="M477.7,422.3 L478.3,436.3 Q478.5,439.5 481.7,439.5 L487.4,439.5 Q490.59999999999997,439.5 490.79999999999995,436.3 L491.4,422.3" stroke="#777" stroke-width="0.7" fill="none" />
<path d="M479.3,422.3 L480.09999999999997,435.7 Q480.3,437.9 482.29999999999995,437.9 L486.8,437.9 Q488.79999999999995,437.9 489.0,435.7 L489.79999999999995,422.3" stroke="#999" stroke-width="0.6" fill="none" />
<path d="M500.3,422.3 L500.8,438.5 Q501,440.6 503,440.6 L516.6,440.6 L516.6,422.3" stroke="#777" stroke-width="0.7" fill="none" />
<path d="M502,422.3 L502.4,439 L515,439 L515,422.3" stroke="#999" stroke-width="0.6" fill="none" />
<path d="M242.7,407 L242.7,419 Q242.7,421.9 245.6,421.9 L258.3,421.9 Q261.2,421.9 261.2,419 L261.2,407" stroke="#444" stroke-width="0.8" fill="none" />
<path d="M431.6,407 L431.6,419.4 Q431.6,422.3 434.5,422.3 L449.3,422.3 Q452.2,422.3 452.2,419.4 L452.2,407" stroke="#444" stroke-width="0.8" fill="none" />
<path d="M169.2,455.5 L184.3,455.5 Q187.5,455.5 187.5,458.7 L187.5,477 M168.3,471.8 L187.5,471.8" stroke="#444" stroke-width="0.75" fill="none" />
<path d="M524.2,455.5 L508.7,455.5 Q505.5,455.5 505.5,458.7 L505.5,477 M505.5,471.8 L525.6,471.8" stroke="#444" stroke-width="0.75" fill="none" />
<circle cx="250.50" cy="415.00" r="5.90" stroke="#333" stroke-width="0.85" fill="#fff"/>
<circle cx="250.50" cy="415.00" r="4.70" stroke="#999" stroke-width="0.45" fill="none"/>
<ellipse cx="250.5" cy="415" rx="0.95" ry="3.5" stroke="#555" stroke-width="0.55" fill="none"/>
<path d="M247.2,415 L248.9,415 M252.1,415 L253.8,415" stroke="#555" stroke-width="0.7" fill="none" />
<circle cx="442.40" cy="415.00" r="5.90" stroke="#333" stroke-width="0.85" fill="#fff"/>
<circle cx="442.40" cy="415.00" r="4.70" stroke="#999" stroke-width="0.45" fill="none"/>
<ellipse cx="442.4" cy="415" rx="0.95" ry="3.5" stroke="#555" stroke-width="0.55" fill="none"/>
<path d="M439.09999999999997,415 L440.79999999999995,415 M444.0,415 L445.7,415" stroke="#555" stroke-width="0.7" fill="none" />
<circle cx="179.00" cy="463.90" r="5.90" stroke="#333" stroke-width="0.85" fill="#fff"/>
<circle cx="179.00" cy="463.90" r="4.70" stroke="#999" stroke-width="0.45" fill="none"/>
<ellipse cx="179" cy="463.9" rx="0.95" ry="3.5" stroke="#555" stroke-width="0.55" fill="none"/>
<path d="M175.7,463.9 L177.4,463.9 M180.6,463.9 L182.3,463.9" stroke="#555" stroke-width="0.7" fill="none" />
<circle cx="514.70" cy="464.00" r="5.90" stroke="#333" stroke-width="0.85" fill="#fff"/>
<circle cx="514.70" cy="464.00" r="4.70" stroke="#999" stroke-width="0.45" fill="none"/>
<ellipse cx="514.7" cy="464.0" rx="0.95" ry="3.5" stroke="#555" stroke-width="0.55" fill="none"/>
<path d="M511.40000000000003,464.0 L513.1,464.0 M516.3000000000001,464.0 L518.0,464.0" stroke="#555" stroke-width="0.7" fill="none" />
<ellipse cx="279.00" cy="421.00" rx="2.55" ry="2.95" stroke="#555" stroke-width="0.6" fill="#fff"/>
<ellipse cx="279.00" cy="428.20" rx="2.55" ry="2.95" stroke="#555" stroke-width="0.6" fill="#fff"/>
<line x1="276.70" y1="428.60" x2="281.30" y2="428.60" stroke="#777" stroke-width="0.5"/>
<ellipse cx="286.53" cy="421.00" rx="2.55" ry="2.95" stroke="#555" stroke-width="0.6" fill="#fff"/>
<ellipse cx="286.53" cy="428.20" rx="2.55" ry="2.95" stroke="#555" stroke-width="0.6" fill="#fff"/>
<line x1="284.23" y1="428.60" x2="288.83" y2="428.60" stroke="#777" stroke-width="0.5"/>
<ellipse cx="294.06" cy="421.00" rx="2.55" ry="2.95" stroke="#555" stroke-width="0.6" fill="#fff"/>
<ellipse cx="294.06" cy="428.20" rx="2.55" ry="2.95" stroke="#555" stroke-width="0.6" fill="#fff"/>
<line x1="291.76" y1="428.60" x2="296.36" y2="428.60" stroke="#777" stroke-width="0.5"/>
<ellipse cx="301.59" cy="421.00" rx="2.55" ry="2.95" stroke="#555" stroke-width="0.6" fill="#fff"/>
<ellipse cx="301.59" cy="428.20" rx="2.55" ry="2.95" stroke="#555" stroke-width="0.6" fill="#fff"/>
<line x1="299.29" y1="428.60" x2="303.89" y2="428.60" stroke="#777" stroke-width="0.5"/>
<ellipse cx="309.12" cy="421.00" rx="2.55" ry="2.95" stroke="#555" stroke-width="0.6" fill="#fff"/>
<ellipse cx="309.12" cy="428.20" rx="2.55" ry="2.95" stroke="#555" stroke-width="0.6" fill="#fff"/>
<line x1="306.82" y1="428.60" x2="311.42" y2="428.60" stroke="#777" stroke-width="0.5"/>
<ellipse cx="316.65" cy="421.00" rx="2.55" ry="2.95" stroke="#555" stroke-width="0.6" fill="#fff"/>
<line x1="314.35" y1="421.40" x2="318.95" y2="421.40" stroke="#777" stroke-width="0.5"/>
<ellipse cx="316.65" cy="428.20" rx="2.55" ry="2.95" stroke="#555" stroke-width="0.6" fill="#fff"/>
<line x1="314.35" y1="428.60" x2="318.95" y2="428.60" stroke="#777" stroke-width="0.5"/>
<ellipse cx="324.18" cy="421.00" rx="2.55" ry="2.95" stroke="#555" stroke-width="0.6" fill="#fff"/>
<line x1="321.88" y1="421.40" x2="326.48" y2="421.40" stroke="#777" stroke-width="0.5"/>
<ellipse cx="324.18" cy="428.20" rx="2.55" ry="2.95" stroke="#555" stroke-width="0.6" fill="#fff"/>
<line x1="321.88" y1="428.60" x2="326.48" y2="428.60" stroke="#777" stroke-width="0.5"/>
<ellipse cx="331.71" cy="421.00" rx="2.55" ry="2.95" stroke="#555" stroke-width="0.6" fill="#fff"/>
<ellipse cx="331.71" cy="428.20" rx="2.55" ry="2.95" stroke="#555" stroke-width="0.6" fill="#fff"/>
<ellipse cx="339.24" cy="421.00" rx="2.55" ry="2.95" stroke="#555" stroke-width="0.6" fill="#fff"/>
<line x1="336.94" y1="421.40" x2="341.54" y2="421.40" stroke="#777" stroke-width="0.5"/>
<ellipse cx="339.24" cy="428.20" rx="2.55" ry="2.95" stroke="#555" stroke-width="0.6" fill="#fff"/>
<line x1="336.94" y1="428.60" x2="341.54" y2="428.60" stroke="#777" stroke-width="0.5"/>
<ellipse cx="346.77" cy="421.00" rx="2.55" ry="2.95" stroke="#555" stroke-width="0.6" fill="#fff"/>
<ellipse cx="346.77" cy="428.20" rx="2.55" ry="2.95" stroke="#555" stroke-width="0.6" fill="#fff"/>
<ellipse cx="354.30" cy="421.00" rx="2.55" ry="2.95" stroke="#555" stroke-width="0.6" fill="#fff"/>
<line x1="352.00" y1="421.40" x2="356.60" y2="421.40" stroke="#777" stroke-width="0.5"/>
<ellipse cx="354.30" cy="428.20" rx="2.55" ry="2.95" stroke="#555" stroke-width="0.6" fill="#fff"/>
<line x1="352.00" y1="428.60" x2="356.60" y2="428.60" stroke="#777" stroke-width="0.5"/>
<ellipse cx="361.83" cy="421.00" rx="2.55" ry="2.95" stroke="#555" stroke-width="0.6" fill="#fff"/>
<ellipse cx="361.83" cy="428.20" rx="2.55" ry="2.95" stroke="#555" stroke-width="0.6" fill="#fff"/>
<line x1="359.53" y1="428.60" x2="364.13" y2="428.60" stroke="#777" stroke-width="0.5"/>
<ellipse cx="369.36" cy="421.00" rx="2.55" ry="2.95" stroke="#555" stroke-width="0.6" fill="#fff"/>
<line x1="367.06" y1="421.40" x2="371.66" y2="421.40" stroke="#777" stroke-width="0.5"/>
<ellipse cx="369.36" cy="428.20" rx="2.55" ry="2.95" stroke="#555" stroke-width="0.6" fill="#fff"/>
<line x1="367.06" y1="428.60" x2="371.66" y2="428.60" stroke="#777" stroke-width="0.5"/>
<ellipse cx="376.89" cy="421.00" rx="2.55" ry="2.95" stroke="#555" stroke-width="0.6" fill="#fff"/>
<ellipse cx="376.89" cy="428.20" rx="2.55" ry="2.95" stroke="#555" stroke-width="0.6" fill="#fff"/>
<ellipse cx="384.42" cy="421.00" rx="2.55" ry="2.95" stroke="#555" stroke-width="0.6" fill="#fff"/>
<ellipse cx="384.42" cy="428.20" rx="2.55" ry="2.95" stroke="#555" stroke-width="0.6" fill="#fff"/>
<line x1="382.12" y1="428.60" x2="386.72" y2="428.60" stroke="#777" stroke-width="0.5"/>
<ellipse cx="391.95" cy="421.00" rx="2.55" ry="2.95" stroke="#555" stroke-width="0.6" fill="#fff"/>
<line x1="389.65" y1="421.40" x2="394.25" y2="421.40" stroke="#777" stroke-width="0.5"/>
<ellipse cx="391.95" cy="428.20" rx="2.55" ry="2.95" stroke="#555" stroke-width="0.6" fill="#fff"/>
<line x1="389.65" y1="428.60" x2="394.25" y2="428.60" stroke="#777" stroke-width="0.5"/>
<ellipse cx="399.48" cy="421.00" rx="2.55" ry="2.95" stroke="#555" stroke-width="0.6" fill="#fff"/>
<ellipse cx="399.48" cy="428.20" rx="2.55" ry="2.95" stroke="#555" stroke-width="0.6" fill="#fff"/>
<ellipse cx="407.01" cy="421.00" rx="2.55" ry="2.95" stroke="#555" stroke-width="0.6" fill="#fff"/>
<line x1="404.71" y1="421.40" x2="409.31" y2="421.40" stroke="#777" stroke-width="0.5"/>
<ellipse cx="407.01" cy="428.20" rx="2.55" ry="2.95" stroke="#555" stroke-width="0.6" fill="#fff"/>
<line x1="404.71" y1="428.60" x2="409.31" y2="428.60" stroke="#777" stroke-width="0.5"/>
<ellipse cx="414.54" cy="421.00" rx="2.55" ry="2.95" stroke="#555" stroke-width="0.6" fill="#fff"/>
<ellipse cx="414.54" cy="428.20" rx="2.55" ry="2.95" stroke="#555" stroke-width="0.6" fill="#fff"/>
<line x1="412.24" y1="428.60" x2="416.84" y2="428.60" stroke="#777" stroke-width="0.5"/>
<ellipse cx="199.90" cy="454.70" rx="2.9" ry="2.95" stroke="#555" stroke-width="0.6" fill="#fff"/>
<ellipse cx="207.20" cy="454.70" rx="2.9" ry="2.95" stroke="#555" stroke-width="0.6" fill="#fff"/>
<ellipse cx="214.60" cy="454.70" rx="2.9" ry="2.95" stroke="#555" stroke-width="0.6" fill="#fff"/>
<line x1="214.60" y1="452.10" x2="214.60" y2="457.30" stroke="#777" stroke-width="0.5"/>
<ellipse cx="222.10" cy="454.70" rx="2.9" ry="2.95" stroke="#555" stroke-width="0.6" fill="#fff"/>
<ellipse cx="229.70" cy="454.70" rx="2.9" ry="2.95" stroke="#555" stroke-width="0.6" fill="#fff"/>
<ellipse cx="237.20" cy="454.70" rx="2.9" ry="2.95" stroke="#555" stroke-width="0.6" fill="#fff"/>
<ellipse cx="244.70" cy="454.70" rx="2.9" ry="2.95" stroke="#555" stroke-width="0.6" fill="#fff"/>
<line x1="244.70" y1="452.10" x2="244.70" y2="457.30" stroke="#777" stroke-width="0.5"/>
<ellipse cx="195.80" cy="462.40" rx="2.9" ry="2.95" stroke="#555" stroke-width="0.6" fill="#fff"/>
<ellipse cx="203.50" cy="462.40" rx="2.9" ry="2.95" stroke="#555" stroke-width="0.6" fill="#fff"/>
<ellipse cx="210.80" cy="462.40" rx="2.9" ry="2.95" stroke="#555" stroke-width="0.6" fill="#fff"/>
<ellipse cx="218.40" cy="462.40" rx="2.9" ry="2.95" stroke="#555" stroke-width="0.6" fill="#fff"/>
<line x1="216.10" y1="462.80" x2="220.70" y2="462.80" stroke="#777" stroke-width="0.5"/>
<ellipse cx="225.90" cy="462.40" rx="2.9" ry="2.95" stroke="#555" stroke-width="0.6" fill="#fff"/>
<line x1="223.60" y1="462.80" x2="228.20" y2="462.80" stroke="#777" stroke-width="0.5"/>
<ellipse cx="233.40" cy="462.40" rx="2.9" ry="2.95" stroke="#555" stroke-width="0.6" fill="#fff"/>
<line x1="231.10" y1="462.80" x2="235.70" y2="462.80" stroke="#777" stroke-width="0.5"/>
<ellipse cx="241.10" cy="462.40" rx="2.9" ry="2.95" stroke="#555" stroke-width="0.6" fill="#fff"/>
<line x1="238.80" y1="462.80" x2="243.40" y2="462.80" stroke="#777" stroke-width="0.5"/>
<ellipse cx="448.10" cy="454.70" rx="2.9" ry="2.95" stroke="#555" stroke-width="0.6" fill="#fff"/>
<line x1="448.10" y1="452.10" x2="448.10" y2="457.30" stroke="#777" stroke-width="0.5"/>
<ellipse cx="455.80" cy="454.70" rx="2.9" ry="2.95" stroke="#555" stroke-width="0.6" fill="#fff"/>
<ellipse cx="463.20" cy="454.70" rx="2.9" ry="2.95" stroke="#555" stroke-width="0.6" fill="#fff"/>
<ellipse cx="470.90" cy="454.70" rx="2.9" ry="2.95" stroke="#555" stroke-width="0.6" fill="#fff"/>
<ellipse cx="478.40" cy="454.70" rx="2.9" ry="2.95" stroke="#555" stroke-width="0.6" fill="#fff"/>
<line x1="478.40" y1="452.10" x2="478.40" y2="457.30" stroke="#777" stroke-width="0.5"/>
<ellipse cx="486.00" cy="454.70" rx="2.9" ry="2.95" stroke="#555" stroke-width="0.6" fill="#fff"/>
<ellipse cx="493.50" cy="454.70" rx="2.9" ry="2.95" stroke="#555" stroke-width="0.6" fill="#fff"/>
<ellipse cx="444.30" cy="462.40" rx="2.9" ry="2.95" stroke="#555" stroke-width="0.6" fill="#fff"/>
<ellipse cx="451.90" cy="462.40" rx="2.9" ry="2.95" stroke="#555" stroke-width="0.6" fill="#fff"/>
<line x1="449.60" y1="462.80" x2="454.20" y2="462.80" stroke="#777" stroke-width="0.5"/>
<ellipse cx="459.40" cy="462.40" rx="2.9" ry="2.95" stroke="#555" stroke-width="0.6" fill="#fff"/>
<line x1="457.10" y1="462.80" x2="461.70" y2="462.80" stroke="#777" stroke-width="0.5"/>
<ellipse cx="467.00" cy="462.40" rx="2.9" ry="2.95" stroke="#555" stroke-width="0.6" fill="#fff"/>
<line x1="464.70" y1="462.80" x2="469.30" y2="462.80" stroke="#777" stroke-width="0.5"/>
<ellipse cx="474.70" cy="462.40" rx="2.9" ry="2.95" stroke="#555" stroke-width="0.6" fill="#fff"/>
<line x1="472.40" y1="462.80" x2="477.00" y2="462.80" stroke="#777" stroke-width="0.5"/>
<ellipse cx="482.20" cy="462.40" rx="2.9" ry="2.95" stroke="#555" stroke-width="0.6" fill="#fff"/>
<ellipse cx="489.70" cy="462.40" rx="2.9" ry="2.95" stroke="#555" stroke-width="0.6" fill="#fff"/>
<ellipse cx="497.30" cy="462.40" rx="2.9" ry="2.95" stroke="#555" stroke-width="0.6" fill="#fff"/>
<rect x="257.30" y="437.20" width="89.70" height="24.80" rx="1.5" stroke="#666" stroke-width="0.7" fill="#fff"/>
<rect x="258.60" y="438.50" width="87.10" height="22.20" rx="1" stroke="#999" stroke-width="0.5" fill="none"/>
<path d="M261.6,441.5 L261.6,458.6 L343.6,458.6 L343.6,441.5" stroke="#222" stroke-width="1.3" fill="none" />
<line x1="261.60" y1="441.50" x2="343.60" y2="441.50" stroke="#555" stroke-width="0.7"/>
<line x1="263.20" y1="443.00" x2="263.20" y2="457.40" stroke="#888" stroke-width="0.5"/>
<line x1="342.00" y1="443.00" x2="342.00" y2="457.40" stroke="#888" stroke-width="0.5"/>
<line x1="263.20" y1="443.00" x2="342.00" y2="443.00" stroke="#999" stroke-width="0.5"/>
<rect x="266.20" y="445.70" width="3.30" height="1.80" rx="0" stroke="#222" stroke-width="0.2" fill="#222"/>
<rect x="335.70" y="445.70" width="3.30" height="1.80" rx="0" stroke="#222" stroke-width="0.2" fill="#222"/>
<line x1="272.20" y1="446.60" x2="275.60" y2="446.60" stroke="#222" stroke-width="1.15"/>
<line x1="329.60" y1="446.60" x2="333.00" y2="446.60" stroke="#222" stroke-width="1.15"/>
<line x1="278.20" y1="446.60" x2="281.60" y2="446.60" stroke="#222" stroke-width="1.15"/>
<line x1="323.60" y1="446.60" x2="327.00" y2="446.60" stroke="#222" stroke-width="1.15"/>
<line x1="284.20" y1="446.60" x2="287.60" y2="446.60" stroke="#222" stroke-width="1.15"/>
<line x1="317.60" y1="446.60" x2="321.00" y2="446.60" stroke="#222" stroke-width="1.15"/>
<line x1="295.20" y1="447.80" x2="295.20" y2="449.40" stroke="#555" stroke-width="0.9"/>
<line x1="298.92" y1="447.80" x2="298.92" y2="449.40" stroke="#555" stroke-width="0.9"/>
<line x1="302.64" y1="447.80" x2="302.64" y2="449.40" stroke="#555" stroke-width="0.9"/>
<line x1="306.36" y1="447.80" x2="306.36" y2="449.40" stroke="#555" stroke-width="0.9"/>
<line x1="310.08" y1="447.80" x2="310.08" y2="449.40" stroke="#555" stroke-width="0.9"/>
<rect x="266.20" y="452.70" width="3.30" height="3.60" rx="0" stroke="#222" stroke-width="0.2" fill="#222"/>
<rect x="335.70" y="452.70" width="3.30" height="3.60" rx="0" stroke="#222" stroke-width="0.2" fill="#222"/>
<line x1="272.20" y1="453.70" x2="275.60" y2="453.70" stroke="#222" stroke-width="1.15"/>
<line x1="329.60" y1="453.70" x2="333.00" y2="453.70" stroke="#222" stroke-width="1.15"/>
<line x1="278.20" y1="453.70" x2="281.60" y2="453.70" stroke="#222" stroke-width="1.15"/>
<line x1="323.60" y1="453.70" x2="327.00" y2="453.70" stroke="#222" stroke-width="1.15"/>
<line x1="284.20" y1="453.70" x2="287.60" y2="453.70" stroke="#222" stroke-width="1.15"/>
<line x1="317.60" y1="453.70" x2="321.00" y2="453.70" stroke="#222" stroke-width="1.15"/>
<line x1="295.20" y1="453.10" x2="295.20" y2="454.70" stroke="#555" stroke-width="0.9"/>
<line x1="298.92" y1="453.10" x2="298.92" y2="454.70" stroke="#555" stroke-width="0.9"/>
<line x1="302.64" y1="453.10" x2="302.64" y2="454.70" stroke="#555" stroke-width="0.9"/>
<line x1="306.36" y1="453.10" x2="306.36" y2="454.70" stroke="#555" stroke-width="0.9"/>
<line x1="310.08" y1="453.10" x2="310.08" y2="454.70" stroke="#555" stroke-width="0.9"/>
<path d="M290.0,441.5 L290.0,445.2 L292.0,445.2 L292.0,441.5" stroke="#444" stroke-width="0.7" fill="none" />
<path d="M291.2,458.6 L291.2,455.6 Q292.2,454.6 293.2,455.6 L293.2,458.6" stroke="#444" stroke-width="0.7" fill="none" />
<path d="M313.40000000000003,441.5 L313.40000000000003,445.2 L315.40000000000003,445.2 L315.40000000000003,441.5" stroke="#444" stroke-width="0.7" fill="none" />
<path d="M314.6,458.6 L314.6,455.6 Q315.6,454.6 316.6,455.6 L316.6,458.6" stroke="#444" stroke-width="0.7" fill="none" />
<path d="M264.8,441.5 L264.8,443.6 L268.0,443.6 M340.40000000000003,441.5 L340.40000000000003,443.6 L337.20000000000005,443.6" stroke="#555" stroke-width="0.6" fill="none" />
<rect x="343.60" y="437.20" width="89.70" height="24.80" rx="1.5" stroke="#666" stroke-width="0.7" fill="#fff"/>
<rect x="344.90" y="438.50" width="87.10" height="22.20" rx="1" stroke="#999" stroke-width="0.5" fill="none"/>
<path d="M346.2,441.5 L346.2,458.6 L429.0,458.6 L429.0,441.5" stroke="#222" stroke-width="1.3" fill="none" />
<line x1="346.20" y1="441.50" x2="429.00" y2="441.50" stroke="#555" stroke-width="0.7"/>
<line x1="347.80" y1="443.00" x2="347.80" y2="457.40" stroke="#888" stroke-width="0.5"/>
<line x1="427.40" y1="443.00" x2="427.40" y2="457.40" stroke="#888" stroke-width="0.5"/>
<line x1="347.80" y1="443.00" x2="427.40" y2="443.00" stroke="#999" stroke-width="0.5"/>
<rect x="350.80" y="445.70" width="3.30" height="1.80" rx="0" stroke="#222" stroke-width="0.2" fill="#222"/>
<rect x="421.10" y="445.70" width="3.30" height="1.80" rx="0" stroke="#222" stroke-width="0.2" fill="#222"/>
<line x1="356.80" y1="446.60" x2="360.20" y2="446.60" stroke="#222" stroke-width="1.15"/>
<line x1="415.00" y1="446.60" x2="418.40" y2="446.60" stroke="#222" stroke-width="1.15"/>
<line x1="362.80" y1="446.60" x2="366.20" y2="446.60" stroke="#222" stroke-width="1.15"/>
<line x1="409.00" y1="446.60" x2="412.40" y2="446.60" stroke="#222" stroke-width="1.15"/>
<line x1="368.80" y1="446.60" x2="372.20" y2="446.60" stroke="#222" stroke-width="1.15"/>
<line x1="403.00" y1="446.60" x2="406.40" y2="446.60" stroke="#222" stroke-width="1.15"/>
<line x1="379.80" y1="447.80" x2="379.80" y2="449.40" stroke="#555" stroke-width="0.9"/>
<line x1="383.52" y1="447.80" x2="383.52" y2="449.40" stroke="#555" stroke-width="0.9"/>
<line x1="387.24" y1="447.80" x2="387.24" y2="449.40" stroke="#555" stroke-width="0.9"/>
<line x1="390.96" y1="447.80" x2="390.96" y2="449.40" stroke="#555" stroke-width="0.9"/>
<line x1="394.68" y1="447.80" x2="394.68" y2="449.40" stroke="#555" stroke-width="0.9"/>
<rect x="350.80" y="452.70" width="3.30" height="3.60" rx="0" stroke="#222" stroke-width="0.2" fill="#222"/>
<rect x="421.10" y="452.70" width="3.30" height="3.60" rx="0" stroke="#222" stroke-width="0.2" fill="#222"/>
<line x1="356.80" y1="453.70" x2="360.20" y2="453.70" stroke="#222" stroke-width="1.15"/>
<line x1="415.00" y1="453.70" x2="418.40" y2="453.70" stroke="#222" stroke-width="1.15"/>
<line x1="362.80" y1="453.70" x2="366.20" y2="453.70" stroke="#222" stroke-width="1.15"/>
<line x1="409.00" y1="453.70" x2="412.40" y2="453.70" stroke="#222" stroke-width="1.15"/>
<line x1="368.80" y1="453.70" x2="372.20" y2="453.70" stroke="#222" stroke-width="1.15"/>
<line x1="403.00" y1="453.70" x2="406.40" y2="453.70" stroke="#222" stroke-width="1.15"/>
<line x1="379.80" y1="453.10" x2="379.80" y2="454.70" stroke="#555" stroke-width="0.9"/>
<line x1="383.52" y1="453.10" x2="383.52" y2="454.70" stroke="#555" stroke-width="0.9"/>
<line x1="387.24" y1="453.10" x2="387.24" y2="454.70" stroke="#555" stroke-width="0.9"/>
<line x1="390.96" y1="453.10" x2="390.96" y2="454.70" stroke="#555" stroke-width="0.9"/>
<line x1="394.68" y1="453.10" x2="394.68" y2="454.70" stroke="#555" stroke-width="0.9"/>
<path d="M374.59999999999997,441.5 L374.59999999999997,445.2 L376.59999999999997,445.2 L376.59999999999997,441.5" stroke="#444" stroke-width="0.7" fill="none" />
<path d="M375.79999999999995,458.6 L375.79999999999995,455.6 Q376.79999999999995,454.6 377.79999999999995,455.6 L377.79999999999995,458.6" stroke="#444" stroke-width="0.7" fill="none" />
<path d="M398.0,441.5 L398.0,445.2 L400.0,445.2 L400.0,441.5" stroke="#444" stroke-width="0.7" fill="none" />
<path d="M399.2,458.6 L399.2,455.6 Q400.2,454.6 401.2,455.6 L401.2,458.6" stroke="#444" stroke-width="0.7" fill="none" />
<path d="M349.4,441.5 L349.4,443.6 L352.59999999999997,443.6 M425.8,441.5 L425.8,443.6 L422.6,443.6" stroke="#555" stroke-width="0.6" fill="none" />
<path d="M276,439.5 L279.5,436.5 Q281,434.7 283,434.7 L320,434.7 Q322.5,434.7 323.5,436.2 L326,439.5" stroke="#777" stroke-width="0.7" fill="#fff" />
<path d="M362.5,439.5 L366,436.2 Q367.5,434.7 369.5,434.7 L405,434.7 Q407.5,434.7 409,436.2 L412.5,439.5" stroke="#777" stroke-width="0.7" fill="#fff" />
<path d="M258.5,441.2 L281,441.2 M281,441.2 L283.5,439.3 L343,439.3" stroke="#888" stroke-width="0.6" fill="none" />
<path d="M322,439.5 L324.5,437.2 L343,437.2" stroke="#888" stroke-width="0.6" fill="none" />
<path d="M346,439.3 L365,439.3 M410,439.3 L431,439.3 M411,437.5 L431,437.5" stroke="#888" stroke-width="0.6" fill="none" />
<path d="M373.4,437.5 Q376,433 378.6,437.5" stroke="#888" stroke-width="0.5" fill="none" />
<path d="M380.9,437.5 Q383.5,433 386.1,437.5" stroke="#888" stroke-width="0.5" fill="none" />
<path d="M388.4,437.5 Q391,433 393.6,437.5" stroke="#888" stroke-width="0.5" fill="none" />
<path d="M395.9,437.5 Q398.5,433 401.1,437.5" stroke="#888" stroke-width="0.5" fill="none" />
<line x1="299.30" y1="461.00" x2="299.30" y2="505.50" stroke="#111" stroke-width="1.0"/>
<path d="M299.3,456.3 L297.1,461.8 L301.5,461.8 Z" stroke="#111" stroke-width="0.3" fill="#111" />
<line x1="384.20" y1="461.00" x2="384.20" y2="505.50" stroke="#111" stroke-width="1.0"/>
<path d="M384.2,456.3 L382.0,461.8 L386.4,461.8 Z" stroke="#111" stroke-width="0.3" fill="#111" />
<rect x="253.5" y="504" width="77" height="14.5" fill="#fff"/>
<rect x="357" y="504" width="76" height="14.5" fill="#fff"/>
<text x="254.30" y="516.00" font-size="13.35" text-anchor="start" stroke="#111" stroke-width="0.28">Connector A</text>
<text x="357.80" y="516.00" font-size="13.35" text-anchor="start" stroke="#111" stroke-width="0.28">Connector B</text>
<path d="M134.4,551.3 Q134.4,548.3 137.4,548.3 L138.6,548.3 L139.6,543.0 L147.79999999999998,543.0 L148.79999999999998,548.3 L205.6,548.3 L205.6,555.5 Q205.8,558.6 209,558.6 Q212.4,558.6 212.6,555.5 L212.6,545.4 L267.6,545.4 L267.6,555.5 Q267.8,558.6 271,558.6 Q274.4,558.6 274.6,555.5 L274.6,548.3 L331.6,548.3 L332.6,543.0 L341.40000000000003,543.0 L342.40000000000003,548.3 L343.8,548.3 L346.3,550.8 L346.3,586.2 Q346.3,588.7 343.8,588.7 L137.4,588.7 Q134.4,588.7 134.4,585.7 Z" stroke="#7c7c7c" stroke-width="3.0" fill="#fff" stroke-linejoin="round"/>
<path d="M134.4,551.3 Q134.4,548.3 137.4,548.3 L138.6,548.3 L139.6,543.0 L147.79999999999998,543.0 L148.79999999999998,548.3 L205.6,548.3 L205.6,555.5 Q205.8,558.6 209,558.6 Q212.4,558.6 212.6,555.5 L212.6,545.4 L267.6,545.4 L267.6,555.5 Q267.8,558.6 271,558.6 Q274.4,558.6 274.6,555.5 L274.6,548.3 L331.6,548.3 L332.6,543.0 L341.40000000000003,543.0 L342.40000000000003,548.3 L343.8,548.3 L346.3,550.8 L346.3,586.2 Q346.3,588.7 343.8,588.7 L137.4,588.7 Q134.4,588.7 134.4,585.7 Z" stroke="#bcbcbc" stroke-width="1.7" fill="none" stroke-linejoin="round"/>
<path d="M213.2,546.2 L227,546.2 L227,549.1 L254.5,549.1 L254.5,546.2 L267.2,546.2" stroke="#777" stroke-width="0.6" fill="none" />
<path d="M232.2,549.1 L232.2,550.2 L250.2,550.2 L250.2,549.1" stroke="#999" stroke-width="0.5" fill="none" />
<path d="M274.8,545.6 L331,545.6 M274.8,544.2 L296,544.2" stroke="#999" stroke-width="0.6" fill="none" />
<line x1="279.30" y1="543.60" x2="279.30" y2="547.40" stroke="#888" stroke-width="0.55"/>
<line x1="284.80" y1="543.60" x2="284.80" y2="547.40" stroke="#888" stroke-width="0.55"/>
<line x1="290.40" y1="543.60" x2="290.40" y2="547.40" stroke="#888" stroke-width="0.55"/>
<line x1="190.30" y1="543.60" x2="190.30" y2="547.40" stroke="#888" stroke-width="0.55"/>
<line x1="196.30" y1="543.60" x2="196.30" y2="547.40" stroke="#888" stroke-width="0.55"/>
<line x1="202.30" y1="543.60" x2="202.30" y2="547.40" stroke="#888" stroke-width="0.55"/>
<path d="M208.2,589.5 L208.2,581 Q208.2,579 210.2,579 L211.6,579 Q213.6,579 213.6,581 L213.6,589.5" stroke="#777" stroke-width="0.7" fill="#e8e8e8" />
<line x1="210.90" y1="581.00" x2="210.90" y2="589.50" stroke="#888" stroke-width="0.5"/>
<path d="M266.8,589.5 L266.8,581 Q266.8,579 268.8,579 L270.6,579 Q272.6,579 272.6,581 L272.6,589.5" stroke="#777" stroke-width="0.7" fill="#e8e8e8" />
<line x1="269.50" y1="581.00" x2="269.50" y2="589.50" stroke="#888" stroke-width="0.5"/>
<path d="M113.3,593.9 L113.3,540.3 L134.6,540.2 L135.4,539.4 L184.2,539.4 L186.2,543.3 L205.5,543.3 L206.6,542.2 L274.3,542.2 L275.2,543.3 L294.4,543.3 L296,539.4 L345.8,539.4 L347,543.3 " stroke="#222" stroke-width="1.0" fill="none" stroke-linejoin="round"/>
<path d="M146.0,594.4 L146.0,607.2 L147.3,609.6 L152.5,609.6 L153.8,607.2 L153.8,594.4" stroke="#222" stroke-width="1.0" fill="#fff" />
<path d="M146.6,606.2 L153.20000000000002,606.2 L153.4,607.4 L152.3,609.2 L147.5,609.2 L146.4,607.4 Z" stroke="#888" stroke-width="0.4" fill="#c8c8c8" />
<path d="M161.6,594.4 L161.6,607.2 L162.9,609.6 L168.1,609.6 L169.4,607.2 L169.4,594.4" stroke="#222" stroke-width="1.0" fill="#fff" />
<path d="M162.2,606.2 L168.8,606.2 L169.0,607.4 L167.9,609.2 L163.1,609.2 L162.0,607.4 Z" stroke="#888" stroke-width="0.4" fill="#c8c8c8" />
<path d="M177.29999999999998,594.4 L177.29999999999998,607.2 L178.6,609.6 L183.79999999999998,609.6 L185.1,607.2 L185.1,594.4" stroke="#222" stroke-width="1.0" fill="#fff" />
<path d="M177.89999999999998,606.2 L184.5,606.2 L184.7,607.4 L183.6,609.2 L178.79999999999998,609.2 L177.7,607.4 Z" stroke="#888" stroke-width="0.4" fill="#c8c8c8" />
<path d="M193.1,594.4 L193.1,607.2 L194.4,609.6 L199.6,609.6 L200.9,607.2 L200.9,594.4" stroke="#222" stroke-width="1.0" fill="#fff" />
<path d="M193.7,606.2 L200.3,606.2 L200.5,607.4 L199.4,609.2 L194.6,609.2 L193.5,607.4 Z" stroke="#888" stroke-width="0.4" fill="#c8c8c8" />
<path d="M280.1,594.4 L280.1,607.2 L281.40000000000003,609.6 L286.59999999999997,609.6 L287.9,607.2 L287.9,594.4" stroke="#222" stroke-width="1.0" fill="#fff" />
<path d="M280.70000000000005,606.2 L287.29999999999995,606.2 L287.5,607.4 L286.4,609.2 L281.6,609.2 L280.5,607.4 Z" stroke="#888" stroke-width="0.4" fill="#c8c8c8" />
<path d="M295.8,594.4 L295.8,607.2 L297.1,609.6 L302.29999999999995,609.6 L303.59999999999997,607.2 L303.59999999999997,594.4" stroke="#222" stroke-width="1.0" fill="#fff" />
<path d="M296.40000000000003,606.2 L302.99999999999994,606.2 L303.2,607.4 L302.09999999999997,609.2 L297.3,609.2 L296.2,607.4 Z" stroke="#888" stroke-width="0.4" fill="#c8c8c8" />
<path d="M311.3,594.4 L311.3,607.2 L312.6,609.6 L317.79999999999995,609.6 L319.09999999999997,607.2 L319.09999999999997,594.4" stroke="#222" stroke-width="1.0" fill="#fff" />
<path d="M311.90000000000003,606.2 L318.49999999999994,606.2 L318.7,607.4 L317.59999999999997,609.2 L312.8,609.2 L311.7,607.4 Z" stroke="#888" stroke-width="0.4" fill="#c8c8c8" />
<path d="M327.0,594.4 L327.0,607.2 L328.3,609.6 L333.49999999999994,609.6 L334.79999999999995,607.2 L334.79999999999995,594.4" stroke="#222" stroke-width="1.0" fill="#fff" />
<path d="M327.6,606.2 L334.19999999999993,606.2 L334.4,607.4 L333.29999999999995,609.2 L328.5,609.2 L327.4,607.4 Z" stroke="#888" stroke-width="0.4" fill="#c8c8c8" />
<path d="M210.05,594 L210.05,606.4 L211.3,608.8 L212.55,606.4 L212.55,594" stroke="#2a2a2a" stroke-width="0.9" fill="#e4e4e4" />
<path d="M219.75,594 L219.75,606.4 L221.0,608.8 L222.25,606.4 L222.25,594" stroke="#2a2a2a" stroke-width="0.9" fill="#e4e4e4" />
<path d="M229.75,594 L229.75,606.4 L231.0,608.8 L232.25,606.4 L232.25,594" stroke="#2a2a2a" stroke-width="0.9" fill="#e4e4e4" />
<path d="M239.45,594 L239.45,606.4 L240.7,608.8 L241.95,606.4 L241.95,594" stroke="#2a2a2a" stroke-width="0.9" fill="#e4e4e4" />
<path d="M249.35,594 L249.35,606.4 L250.6,608.8 L251.85,606.4 L251.85,594" stroke="#2a2a2a" stroke-width="0.9" fill="#e4e4e4" />
<path d="M259.15,594 L259.15,606.4 L260.4,608.8 L261.65,606.4 L261.65,594" stroke="#2a2a2a" stroke-width="0.9" fill="#e4e4e4" />
<path d="M268.55,594 L268.55,606.4 L269.8,608.8 L271.05,606.4 L271.05,594" stroke="#2a2a2a" stroke-width="0.9" fill="#e4e4e4" />
<text x="150.20" y="557.90" font-size="9.6" text-anchor="middle" stroke="#111" stroke-width="0.42">1</text>
<rect x="146.00" y="558.4" width="7.9" height="2.7" fill="#111"/>
<rect x="146.00" y="573.5" width="7.9" height="2.8" fill="#111"/>
<text x="150.00" y="585.60" font-size="10.4" text-anchor="middle" stroke="#111" stroke-width="0.42" letter-spacing="-0.55">16</text>
<text x="165.80" y="557.90" font-size="9.6" text-anchor="middle" stroke="#111" stroke-width="0.42">2</text>
<rect x="161.60" y="558.4" width="7.9" height="2.7" fill="#111"/>
<rect x="161.60" y="573.5" width="7.9" height="2.8" fill="#111"/>
<text x="165.60" y="585.60" font-size="10.4" text-anchor="middle" stroke="#111" stroke-width="0.42" letter-spacing="-0.55">17</text>
<text x="181.50" y="557.90" font-size="9.6" text-anchor="middle" stroke="#111" stroke-width="0.42">3</text>
<rect x="177.30" y="558.4" width="7.9" height="2.7" fill="#111"/>
<rect x="177.30" y="573.5" width="7.9" height="2.8" fill="#111"/>
<text x="181.30" y="585.60" font-size="10.4" text-anchor="middle" stroke="#111" stroke-width="0.42" letter-spacing="-0.55">18</text>
<text x="197.30" y="557.90" font-size="9.6" text-anchor="middle" stroke="#111" stroke-width="0.42">4</text>
<rect x="193.10" y="558.4" width="7.9" height="2.7" fill="#111"/>
<rect x="193.10" y="573.5" width="7.9" height="2.8" fill="#111"/>
<text x="197.10" y="585.60" font-size="10.4" text-anchor="middle" stroke="#111" stroke-width="0.42" letter-spacing="-0.55">19</text>
<text x="284.30" y="557.90" font-size="9.6" text-anchor="middle" stroke="#111" stroke-width="0.42">12</text>
<rect x="280.10" y="558.4" width="7.9" height="2.7" fill="#111"/>
<rect x="280.10" y="573.5" width="7.9" height="2.8" fill="#111"/>
<text x="284.10" y="585.60" font-size="10.4" text-anchor="middle" stroke="#111" stroke-width="0.42" letter-spacing="-0.55">25</text>
<text x="300.00" y="557.90" font-size="9.6" text-anchor="middle" stroke="#111" stroke-width="0.42">13</text>
<rect x="295.80" y="558.4" width="7.9" height="2.7" fill="#111"/>
<rect x="295.80" y="573.5" width="7.9" height="2.8" fill="#111"/>
<text x="299.80" y="585.60" font-size="10.4" text-anchor="middle" stroke="#111" stroke-width="0.42" letter-spacing="-0.55">26</text>
<text x="315.50" y="557.90" font-size="9.6" text-anchor="middle" stroke="#111" stroke-width="0.42">14</text>
<rect x="311.30" y="558.4" width="7.9" height="2.7" fill="#111"/>
<rect x="311.30" y="573.5" width="7.9" height="2.8" fill="#111"/>
<text x="315.30" y="585.60" font-size="10.4" text-anchor="middle" stroke="#111" stroke-width="0.42" letter-spacing="-0.55">27</text>
<text x="331.20" y="557.90" font-size="9.6" text-anchor="middle" stroke="#111" stroke-width="0.42">15</text>
<rect x="327.00" y="558.4" width="7.9" height="2.7" fill="#111"/>
<rect x="327.00" y="573.5" width="7.9" height="2.8" fill="#111"/>
<text x="331.00" y="585.60" font-size="10.4" text-anchor="middle" stroke="#111" stroke-width="0.42" letter-spacing="-0.55">28</text>
<text x="221.40" y="562.40" font-size="10.0" text-anchor="middle" stroke="#111" stroke-width="0.42">6</text>
<rect x="219.55" y="563.9" width="2.9" height="2.0" fill="#111"/>
<rect x="219.55" y="575.3" width="2.9" height="2.0" fill="#111"/>
<text x="231.40" y="562.40" font-size="10.0" text-anchor="middle" stroke="#111" stroke-width="0.42">7</text>
<rect x="229.55" y="563.9" width="2.9" height="2.0" fill="#111"/>
<rect x="229.55" y="575.3" width="2.9" height="2.0" fill="#111"/>
<text x="241.10" y="562.40" font-size="10.0" text-anchor="middle" stroke="#111" stroke-width="0.42">8</text>
<rect x="239.25" y="563.9" width="2.9" height="2.0" fill="#111"/>
<rect x="239.25" y="575.3" width="2.9" height="2.0" fill="#111"/>
<text x="251.00" y="562.40" font-size="10.0" text-anchor="middle" stroke="#111" stroke-width="0.42">9</text>
<rect x="249.15" y="563.9" width="2.9" height="2.0" fill="#111"/>
<rect x="249.15" y="575.3" width="2.9" height="2.0" fill="#111"/>
<text x="260.10" y="562.40" font-size="10.0" text-anchor="middle" stroke="#111" stroke-width="0.42" letter-spacing="-0.6">10</text>
<rect x="258.85" y="563.9" width="2.9" height="2.0" fill="#111"/>
<rect x="258.85" y="575.3" width="2.9" height="2.0" fill="#111"/>
<rect x="209.90" y="563.6" width="2.6" height="1.9" fill="#111"/>
<rect x="268.30" y="563.6" width="2.6" height="1.9" fill="#111"/>
<text x="211.60" y="574.60" font-size="10.2" text-anchor="middle" stroke="#111" stroke-width="0.42">5</text>
<text x="269.90" y="574.60" font-size="10.2" text-anchor="middle" stroke="#111" stroke-width="0.42" letter-spacing="-0.3">11</text>
<text x="215.70" y="586.0" font-size="9.0" textLength="50" lengthAdjust="spacingAndGlyphs" stroke="#111" stroke-width="0.42">2021222324</text>
<path d="M353.1,551.3 Q353.1,548.3 356.1,548.3 L378.5,548.3 L379.5,543.0 L387.7,543.0 L388.7,548.3 L424.29999999999995,548.3 L424.29999999999995,555.5 Q424.5,558.6 427.7,558.6 Q431.1,558.6 431.29999999999995,555.5 L431.29999999999995,545.4 L486.3,545.4 L486.3,555.5 Q486.5,558.6 489.7,558.6 Q493.09999999999997,558.6 493.3,555.5 L493.3,548.3 L530.0999999999999,548.3 L531.0999999999999,543.0 L539.9,543.0 L540.9,548.3 L562.5,548.3 L565.0,550.8 L565.0,586.2 Q565.0,588.7 562.5,588.7 L356.1,588.7 Q353.1,588.7 353.1,585.7 Z" stroke="#7c7c7c" stroke-width="3.0" fill="#fff" stroke-linejoin="round"/>
<path d="M353.1,551.3 Q353.1,548.3 356.1,548.3 L378.5,548.3 L379.5,543.0 L387.7,543.0 L388.7,548.3 L424.29999999999995,548.3 L424.29999999999995,555.5 Q424.5,558.6 427.7,558.6 Q431.1,558.6 431.29999999999995,555.5 L431.29999999999995,545.4 L486.3,545.4 L486.3,555.5 Q486.5,558.6 489.7,558.6 Q493.09999999999997,558.6 493.3,555.5 L493.3,548.3 L530.0999999999999,548.3 L531.0999999999999,543.0 L539.9,543.0 L540.9,548.3 L562.5,548.3 L565.0,550.8 L565.0,586.2 Q565.0,588.7 562.5,588.7 L356.1,588.7 Q353.1,588.7 353.1,585.7 Z" stroke="#bcbcbc" stroke-width="1.7" fill="none" stroke-linejoin="round"/>
<path d="M431.9,546.2 L445.7,546.2 L445.7,549.1 L473.2,549.1 L473.2,546.2 L485.9,546.2" stroke="#777" stroke-width="0.6" fill="none" />
<path d="M450.9,549.1 L450.9,550.2 L468.9,550.2 L468.9,549.1" stroke="#999" stroke-width="0.5" fill="none" />
<path d="M493.5,545.6 L549.7,545.6 M493.5,544.2 L514.7,544.2" stroke="#999" stroke-width="0.6" fill="none" />
<line x1="498.00" y1="543.60" x2="498.00" y2="547.40" stroke="#888" stroke-width="0.55"/>
<line x1="503.50" y1="543.60" x2="503.50" y2="547.40" stroke="#888" stroke-width="0.55"/>
<line x1="509.10" y1="543.60" x2="509.10" y2="547.40" stroke="#888" stroke-width="0.55"/>
<line x1="409.00" y1="543.60" x2="409.00" y2="547.40" stroke="#888" stroke-width="0.55"/>
<line x1="415.00" y1="543.60" x2="415.00" y2="547.40" stroke="#888" stroke-width="0.55"/>
<line x1="421.00" y1="543.60" x2="421.00" y2="547.40" stroke="#888" stroke-width="0.55"/>
<path d="M426.9,589.5 L426.9,581 Q426.9,579 428.9,579 L430.29999999999995,579 Q432.29999999999995,579 432.29999999999995,581 L432.29999999999995,589.5" stroke="#777" stroke-width="0.7" fill="#e8e8e8" />
<line x1="429.60" y1="581.00" x2="429.60" y2="589.50" stroke="#888" stroke-width="0.5"/>
<path d="M485.5,589.5 L485.5,581 Q485.5,579 487.5,579 L489.3,579 Q491.3,579 491.3,581 L491.3,589.5" stroke="#777" stroke-width="0.7" fill="#e8e8e8" />
<line x1="488.20" y1="581.00" x2="488.20" y2="589.50" stroke="#888" stroke-width="0.5"/>
<path d="M353.29999999999995,543.3 L354.1,539.4 L402.9,539.4 L404.9,543.3 L424.2,543.3 L425.29999999999995,542.2 L493.0,542.2 L493.9,543.3 L513.0999999999999,543.3 L514.7,539.4 L564.5,539.4 L565.5999999999999,540.2 L587.0999999999999,540.3 L587.0999999999999,593.9" stroke="#222" stroke-width="1.0" fill="none" stroke-linejoin="round"/>
<path d="M364.7,594.4 L364.7,607.2 L366.0,609.6 L371.2,609.6 L372.5,607.2 L372.5,594.4" stroke="#222" stroke-width="1.0" fill="#fff" />
<path d="M365.3,606.2 L371.9,606.2 L372.1,607.4 L371.0,609.2 L366.2,609.2 L365.09999999999997,607.4 Z" stroke="#888" stroke-width="0.4" fill="#c8c8c8" />
<path d="M380.29999999999995,594.4 L380.29999999999995,607.2 L381.59999999999997,609.6 L386.8,609.6 L388.1,607.2 L388.1,594.4" stroke="#222" stroke-width="1.0" fill="#fff" />
<path d="M380.9,606.2 L387.5,606.2 L387.70000000000005,607.4 L386.6,609.2 L381.79999999999995,609.2 L380.69999999999993,607.4 Z" stroke="#888" stroke-width="0.4" fill="#c8c8c8" />
<path d="M396.0,594.4 L396.0,607.2 L397.3,609.6 L402.49999999999994,609.6 L403.79999999999995,607.2 L403.79999999999995,594.4" stroke="#222" stroke-width="1.0" fill="#fff" />
<path d="M396.6,606.2 L403.19999999999993,606.2 L403.4,607.4 L402.29999999999995,609.2 L397.5,609.2 L396.4,607.4 Z" stroke="#888" stroke-width="0.4" fill="#c8c8c8" />
<path d="M411.79999999999995,594.4 L411.79999999999995,607.2 L413.09999999999997,609.6 L418.3,609.6 L419.6,607.2 L419.6,594.4" stroke="#222" stroke-width="1.0" fill="#fff" />
<path d="M412.4,606.2 L419.0,606.2 L419.20000000000005,607.4 L418.1,609.2 L413.29999999999995,609.2 L412.19999999999993,607.4 Z" stroke="#888" stroke-width="0.4" fill="#c8c8c8" />
<path d="M498.8,594.4 L498.8,607.2 L500.1,609.6 L505.29999999999995,609.6 L506.59999999999997,607.2 L506.59999999999997,594.4" stroke="#222" stroke-width="1.0" fill="#fff" />
<path d="M499.40000000000003,606.2 L505.99999999999994,606.2 L506.2,607.4 L505.09999999999997,609.2 L500.3,609.2 L499.2,607.4 Z" stroke="#888" stroke-width="0.4" fill="#c8c8c8" />
<path d="M514.5,594.4 L514.5,607.2 L515.8,609.6 L521.0,609.6 L522.3,607.2 L522.3,594.4" stroke="#222" stroke-width="1.0" fill="#fff" />
<path d="M515.1,606.2 L521.6999999999999,606.2 L521.9,607.4 L520.8,609.2 L516.0,609.2 L514.9,607.4 Z" stroke="#888" stroke-width="0.4" fill="#c8c8c8" />
<path d="M530.0,594.4 L530.0,607.2 L531.3,609.6 L536.5,609.6 L537.8,607.2 L537.8,594.4" stroke="#222" stroke-width="1.0" fill="#fff" />
<path d="M530.6,606.2 L537.1999999999999,606.2 L537.4,607.4 L536.3,609.2 L531.5,609.2 L530.4,607.4 Z" stroke="#888" stroke-width="0.4" fill="#c8c8c8" />
<path d="M545.7,594.4 L545.7,607.2 L547.0,609.6 L552.2,609.6 L553.5,607.2 L553.5,594.4" stroke="#222" stroke-width="1.0" fill="#fff" />
<path d="M546.3000000000001,606.2 L552.9,606.2 L553.1,607.4 L552.0,609.2 L547.2,609.2 L546.1,607.4 Z" stroke="#888" stroke-width="0.4" fill="#c8c8c8" />
<path d="M428.75,594 L428.75,606.4 L430.0,608.8 L431.25,606.4 L431.25,594" stroke="#2a2a2a" stroke-width="0.9" fill="#e4e4e4" />
<path d="M438.45,594 L438.45,606.4 L439.7,608.8 L440.95,606.4 L440.95,594" stroke="#2a2a2a" stroke-width="0.9" fill="#e4e4e4" />
<path d="M448.45,594 L448.45,606.4 L449.7,608.8 L450.95,606.4 L450.95,594" stroke="#2a2a2a" stroke-width="0.9" fill="#e4e4e4" />
<path d="M458.15,594 L458.15,606.4 L459.4,608.8 L460.65,606.4 L460.65,594" stroke="#2a2a2a" stroke-width="0.9" fill="#e4e4e4" />
<path d="M468.04999999999995,594 L468.04999999999995,606.4 L469.29999999999995,608.8 L470.54999999999995,606.4 L470.54999999999995,594" stroke="#2a2a2a" stroke-width="0.9" fill="#e4e4e4" />
<path d="M477.84999999999997,594 L477.84999999999997,606.4 L479.09999999999997,608.8 L480.34999999999997,606.4 L480.34999999999997,594" stroke="#2a2a2a" stroke-width="0.9" fill="#e4e4e4" />
<path d="M487.25,594 L487.25,606.4 L488.5,608.8 L489.75,606.4 L489.75,594" stroke="#2a2a2a" stroke-width="0.9" fill="#e4e4e4" />
<text x="368.90" y="557.90" font-size="9.6" text-anchor="middle" stroke="#111" stroke-width="0.42">1</text>
<rect x="364.70" y="558.4" width="7.9" height="2.7" fill="#111"/>
<rect x="364.70" y="573.5" width="7.9" height="2.8" fill="#111"/>
<text x="368.70" y="585.60" font-size="10.4" text-anchor="middle" stroke="#111" stroke-width="0.42" letter-spacing="-0.55">16</text>
<text x="384.50" y="557.90" font-size="9.6" text-anchor="middle" stroke="#111" stroke-width="0.42">2</text>
<rect x="380.30" y="558.4" width="7.9" height="2.7" fill="#111"/>
<rect x="380.30" y="573.5" width="7.9" height="2.8" fill="#111"/>
<text x="384.30" y="585.60" font-size="10.4" text-anchor="middle" stroke="#111" stroke-width="0.42" letter-spacing="-0.55">17</text>
<text x="400.20" y="557.90" font-size="9.6" text-anchor="middle" stroke="#111" stroke-width="0.42">3</text>
<rect x="396.00" y="558.4" width="7.9" height="2.7" fill="#111"/>
<rect x="396.00" y="573.5" width="7.9" height="2.8" fill="#111"/>
<text x="400.00" y="585.60" font-size="10.4" text-anchor="middle" stroke="#111" stroke-width="0.42" letter-spacing="-0.55">18</text>
<text x="416.00" y="557.90" font-size="9.6" text-anchor="middle" stroke="#111" stroke-width="0.42">4</text>
<rect x="411.80" y="558.4" width="7.9" height="2.7" fill="#111"/>
<rect x="411.80" y="573.5" width="7.9" height="2.8" fill="#111"/>
<text x="415.80" y="585.60" font-size="10.4" text-anchor="middle" stroke="#111" stroke-width="0.42" letter-spacing="-0.55">19</text>
<text x="503.00" y="557.90" font-size="9.6" text-anchor="middle" stroke="#111" stroke-width="0.42">12</text>
<rect x="498.80" y="558.4" width="7.9" height="2.7" fill="#111"/>
<rect x="498.80" y="573.5" width="7.9" height="2.8" fill="#111"/>
<text x="502.80" y="585.60" font-size="10.4" text-anchor="middle" stroke="#111" stroke-width="0.42" letter-spacing="-0.55">25</text>
<text x="518.70" y="557.90" font-size="9.6" text-anchor="middle" stroke="#111" stroke-width="0.42">13</text>
<rect x="514.50" y="558.4" width="7.9" height="2.7" fill="#111"/>
<rect x="514.50" y="573.5" width="7.9" height="2.8" fill="#111"/>
<text x="518.50" y="585.60" font-size="10.4" text-anchor="middle" stroke="#111" stroke-width="0.42" letter-spacing="-0.55">26</text>
<text x="534.20" y="557.90" font-size="9.6" text-anchor="middle" stroke="#111" stroke-width="0.42">14</text>
<rect x="530.00" y="558.4" width="7.9" height="2.7" fill="#111"/>
<rect x="530.00" y="573.5" width="7.9" height="2.8" fill="#111"/>
<text x="534.00" y="585.60" font-size="10.4" text-anchor="middle" stroke="#111" stroke-width="0.42" letter-spacing="-0.55">27</text>
<text x="549.90" y="557.90" font-size="9.6" text-anchor="middle" stroke="#111" stroke-width="0.42">15</text>
<rect x="545.70" y="558.4" width="7.9" height="2.7" fill="#111"/>
<rect x="545.70" y="573.5" width="7.9" height="2.8" fill="#111"/>
<text x="549.70" y="585.60" font-size="10.4" text-anchor="middle" stroke="#111" stroke-width="0.42" letter-spacing="-0.55">28</text>
<text x="440.10" y="562.40" font-size="10.0" text-anchor="middle" stroke="#111" stroke-width="0.42">6</text>
<rect x="438.25" y="563.9" width="2.9" height="2.0" fill="#111"/>
<rect x="438.25" y="575.3" width="2.9" height="2.0" fill="#111"/>
<text x="450.10" y="562.40" font-size="10.0" text-anchor="middle" stroke="#111" stroke-width="0.42">7</text>
<rect x="448.25" y="563.9" width="2.9" height="2.0" fill="#111"/>
<rect x="448.25" y="575.3" width="2.9" height="2.0" fill="#111"/>
<text x="459.80" y="562.40" font-size="10.0" text-anchor="middle" stroke="#111" stroke-width="0.42">8</text>
<rect x="457.95" y="563.9" width="2.9" height="2.0" fill="#111"/>
<rect x="457.95" y="575.3" width="2.9" height="2.0" fill="#111"/>
<text x="469.70" y="562.40" font-size="10.0" text-anchor="middle" stroke="#111" stroke-width="0.42">9</text>
<rect x="467.85" y="563.9" width="2.9" height="2.0" fill="#111"/>
<rect x="467.85" y="575.3" width="2.9" height="2.0" fill="#111"/>
<text x="478.80" y="562.40" font-size="10.0" text-anchor="middle" stroke="#111" stroke-width="0.42" letter-spacing="-0.6">10</text>
<rect x="477.55" y="563.9" width="2.9" height="2.0" fill="#111"/>
<rect x="477.55" y="575.3" width="2.9" height="2.0" fill="#111"/>
<rect x="428.60" y="563.6" width="2.6" height="1.9" fill="#111"/>
<rect x="487.00" y="563.6" width="2.6" height="1.9" fill="#111"/>
<text x="430.30" y="574.60" font-size="10.2" text-anchor="middle" stroke="#111" stroke-width="0.42">5</text>
<text x="488.60" y="574.60" font-size="10.2" text-anchor="middle" stroke="#111" stroke-width="0.42" letter-spacing="-0.3">11</text>
<text x="434.40" y="586.0" font-size="9.0" textLength="50" lengthAdjust="spacingAndGlyphs" stroke="#111" stroke-width="0.42">2021222324</text>
<path d="M122.6,546 L122.6,591.3 L128,594 M122.6,546 L128,543.4 L131,543.0" stroke="#777" stroke-width="0.7" fill="none" />
<line x1="127.40" y1="543.80" x2="127.40" y2="593.60" stroke="#888" stroke-width="0.6"/>
<line x1="130.60" y1="541.00" x2="130.60" y2="594.00" stroke="#888" stroke-width="0.6"/>
<line x1="132.70" y1="541.00" x2="132.70" y2="594.00" stroke="#999" stroke-width="0.6"/>
<path d="M123.8,547.2 L123.8,590.2" stroke="#bbb" stroke-width="0.5" fill="none" />
<path d="M577.6999999999999,546 L577.6999999999999,591.3 L572.3,594 M577.6999999999999,546 L572.3,543.4 L569.3,543.0" stroke="#777" stroke-width="0.7" fill="none" />
<line x1="572.90" y1="543.80" x2="572.90" y2="593.60" stroke="#888" stroke-width="0.6"/>
<line x1="569.70" y1="541.00" x2="569.70" y2="594.00" stroke="#888" stroke-width="0.6"/>
<line x1="567.60" y1="541.00" x2="567.60" y2="594.00" stroke="#999" stroke-width="0.6"/>
<path d="M576.5,547.2 L576.5,590.2" stroke="#bbb" stroke-width="0.5" fill="none" />
<line x1="113.20" y1="593.90" x2="587.10" y2="593.90" stroke="#222" stroke-width="1.0"/>
<path d="M347,543.3 L353.5,543.3 L354.1,539.4" stroke="#222" stroke-width="1.0" fill="none" />
<text x="195.60" y="632.00" font-size="13.35" text-anchor="start" stroke="#111" stroke-width="0.28">Connector A</text>
<text x="443.10" y="632.00" font-size="13.35" text-anchor="start" stroke="#111" stroke-width="0.28">Connector B</text>
</svg>
</body></html>
